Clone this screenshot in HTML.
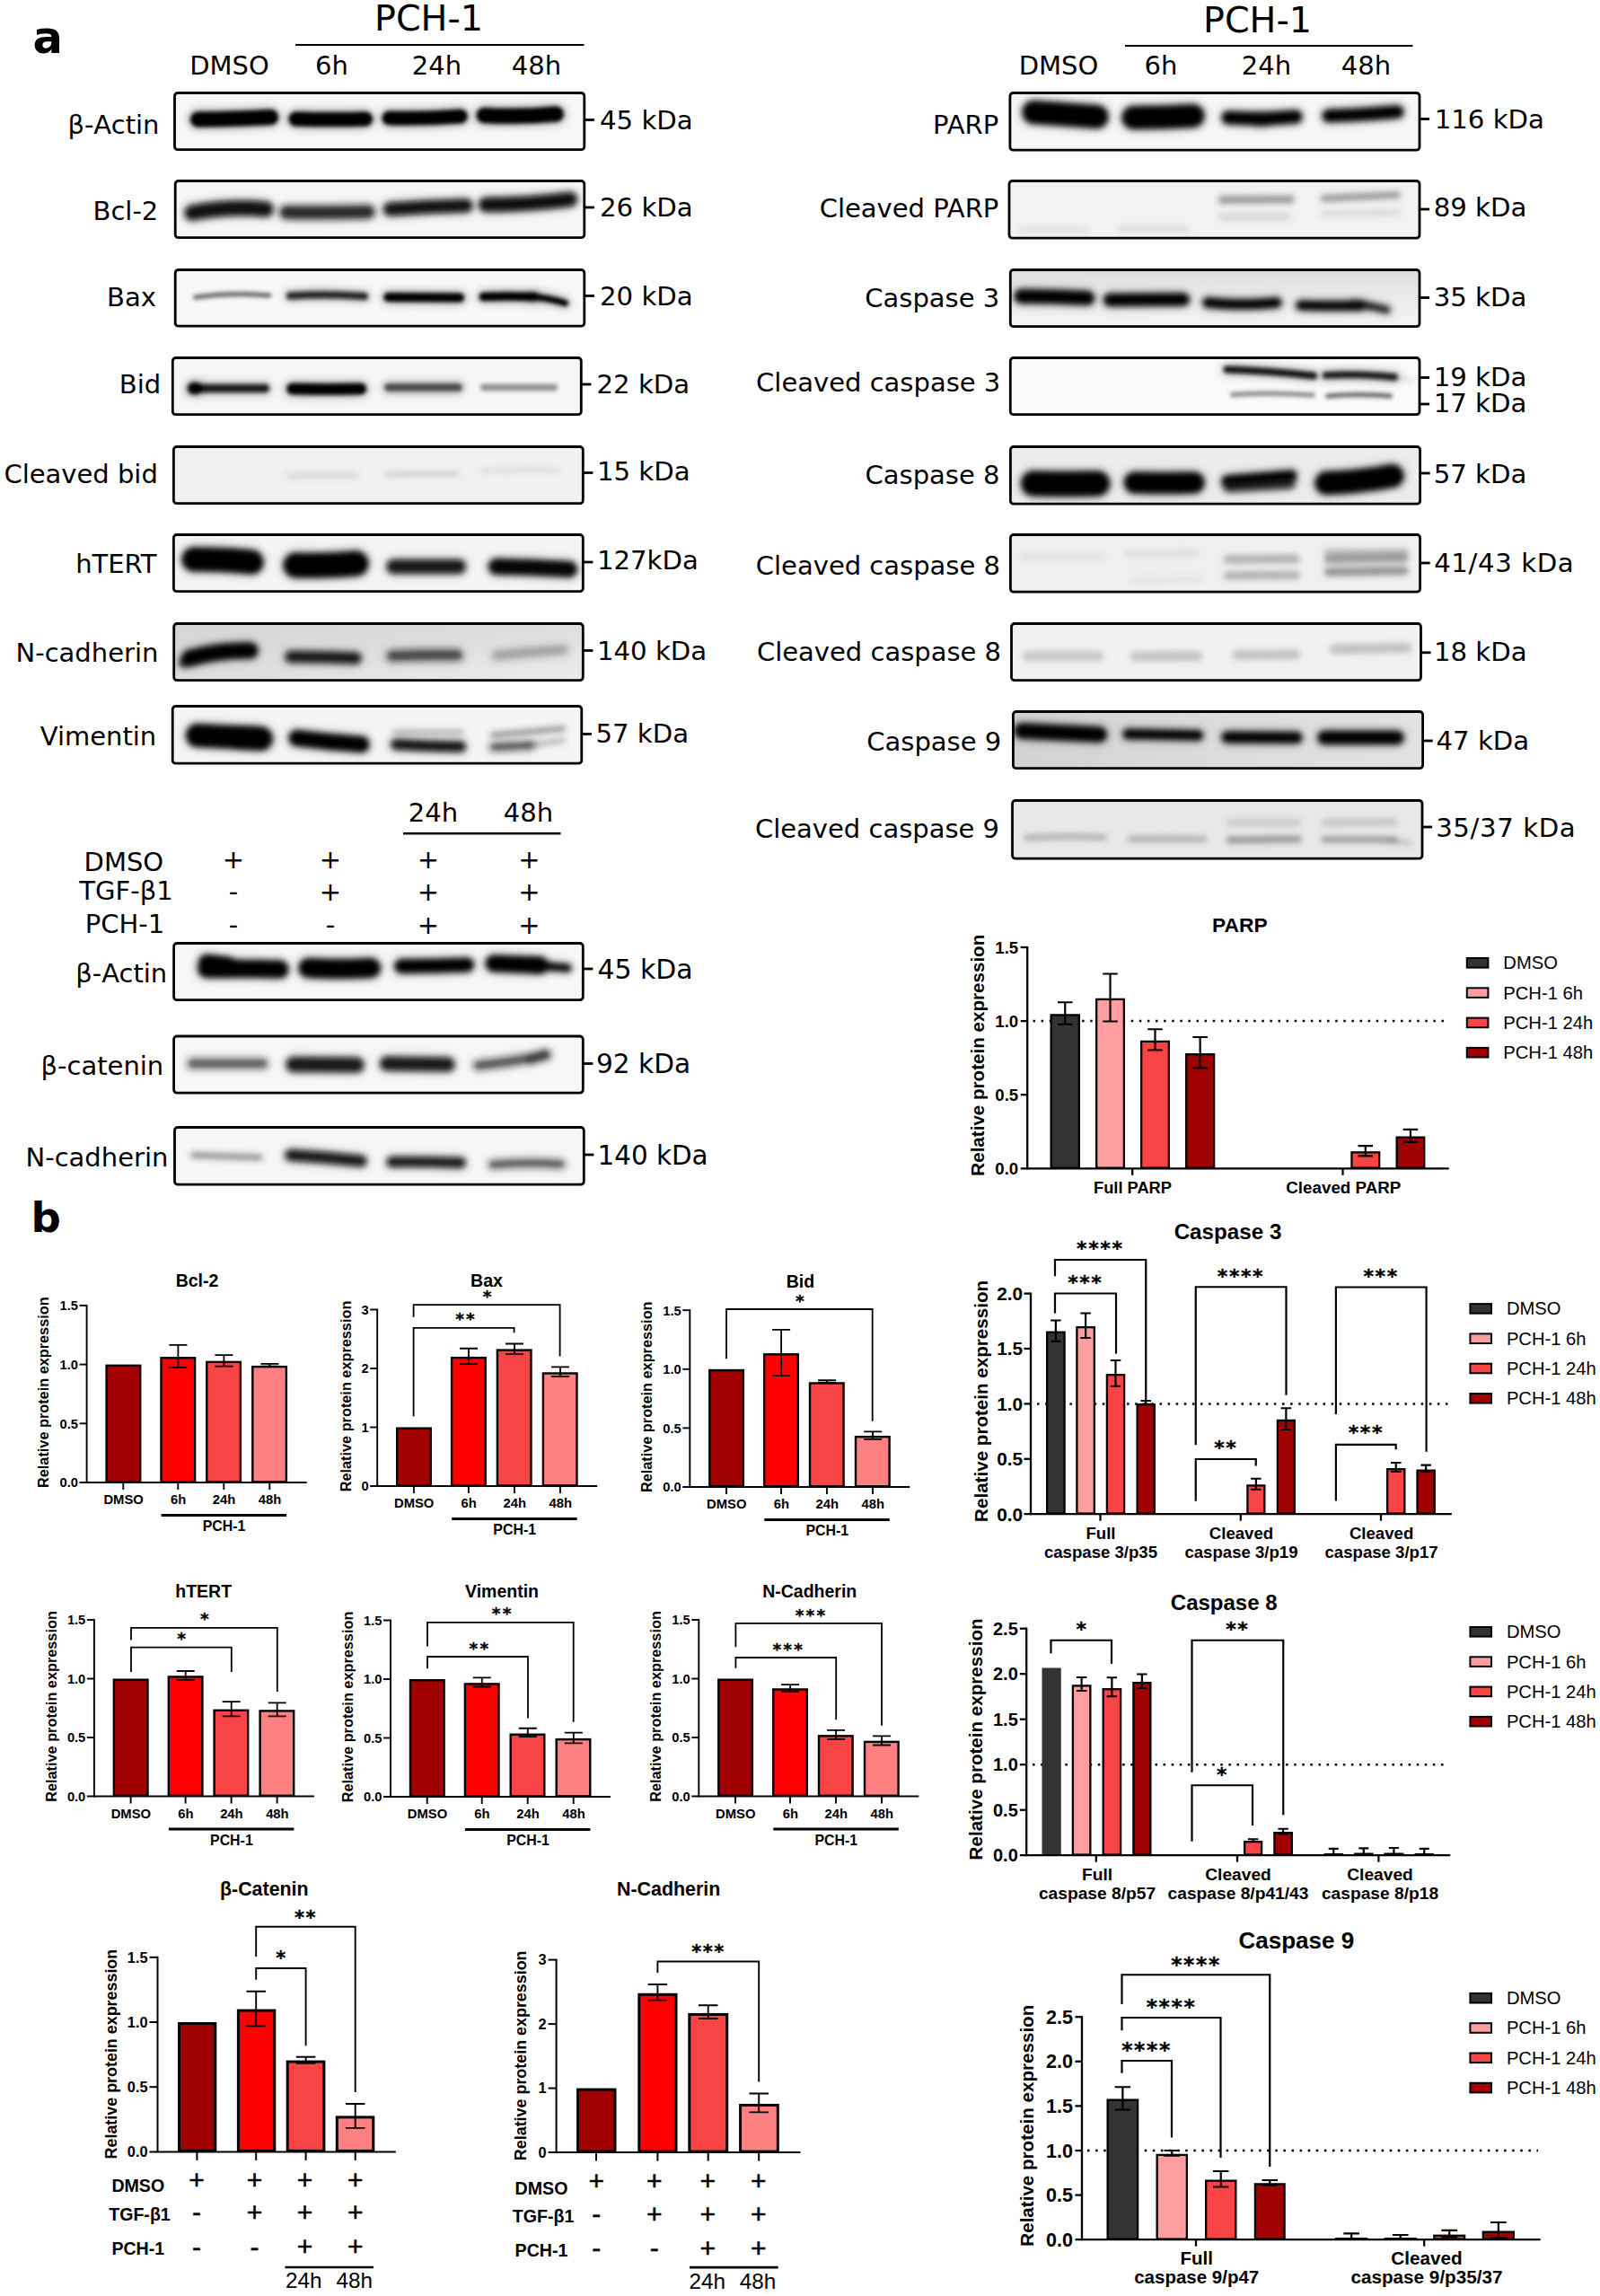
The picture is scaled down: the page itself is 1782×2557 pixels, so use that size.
<!DOCTYPE html>
<html><head><meta charset="utf-8"><title>Figure</title>
<style>
html,body{margin:0;padding:0;background:#fff}
svg{display:block}
.d{font-family:"DejaVu Sans","Liberation Sans",sans-serif}
.l{font-family:"Liberation Sans","DejaVu Sans",sans-serif}
</style></head><body>
<svg width="1782" height="2557" viewBox="0 0 1782 2557">
<defs>
<filter id="b1" x="-20%" y="-200%" width="140%" height="500%"><feGaussianBlur stdDeviation="1.2"/></filter>
<filter id="b2" x="-20%" y="-200%" width="140%" height="500%"><feGaussianBlur stdDeviation="2"/></filter>
<filter id="b3" x="-20%" y="-200%" width="140%" height="500%"><feGaussianBlur stdDeviation="3"/></filter>
<filter id="b4" x="-20%" y="-300%" width="140%" height="700%"><feGaussianBlur stdDeviation="4.5"/></filter>
</defs>
<rect width="1782" height="2557" fill="#fff"/>

<text x="36.4" y="58.6" font-size="49.5" class="d" font-weight="bold">a</text>
<text x="34.6" y="1371.8" font-size="46.6" class="d" font-weight="bold">b</text>
<text x="477.5" y="33.7" font-size="39.7" class="d" text-anchor="middle">PCH-1</text>
<line x1="329.0" y1="50.0" x2="650.5" y2="50.0" stroke="#000" stroke-width="2"/>
<text x="255.5" y="82.5" font-size="29" class="d" text-anchor="middle">DMSO</text>
<text x="369.5" y="82.5" font-size="29" class="d" text-anchor="middle">6h</text>
<text x="486.5" y="82.5" font-size="29" class="d" text-anchor="middle">24h</text>
<text x="597.5" y="82.5" font-size="29" class="d" text-anchor="middle">48h</text>
<text x="1400.5" y="36.3" font-size="39.7" class="d" text-anchor="middle">PCH-1</text>
<line x1="1253.0" y1="51.0" x2="1573.5" y2="51.0" stroke="#000" stroke-width="2"/>
<text x="1179.0" y="82.5" font-size="29" class="d" text-anchor="middle">DMSO</text>
<text x="1293.0" y="82.5" font-size="29" class="d" text-anchor="middle">6h</text>
<text x="1410.5" y="82.5" font-size="29" class="d" text-anchor="middle">24h</text>
<text x="1521.5" y="82.5" font-size="29" class="d" text-anchor="middle">48h</text>
<clipPath id="c1"><rect x="194.5" y="103.5" width="456.3" height="63.2" rx="3"/></clipPath>
<rect x="194.5" y="103.5" width="456.3" height="63.2" rx="3" fill="#f7f7f7"/>
<g clip-path="url(#c1)">
<filter id="f1b2" filterUnits="userSpaceOnUse" x="180" y="88" width="486" height="93"><feGaussianBlur stdDeviation="2"/></filter>
<g filter="url(#f1b2)">
<path d="M220.5 133.0 Q261.0 132.8 301.5 130.5" fill="none" stroke="#000" stroke-opacity="1" stroke-width="17" stroke-linecap="round"/>
<path d="M329.5 132.5 Q368.2 133.5 407.0 132.5" fill="none" stroke="#000" stroke-opacity="1" stroke-width="16" stroke-linecap="round"/>
<path d="M433.4 131.5 Q473.1 132.5 512.9 129.5" fill="none" stroke="#000" stroke-opacity="1" stroke-width="15.5" stroke-linecap="round"/>
<path d="M539.2 128.5 Q579.2 130.8 619.3 127.0" fill="none" stroke="#000" stroke-opacity="1" stroke-width="17" stroke-linecap="round"/>
</g>
<filter id="f1h" filterUnits="userSpaceOnUse" x="180" y="88" width="486" height="93"><feGaussianBlur stdDeviation="5"/></filter>
<g filter="url(#f1h)"><path d="M220.5 133.0 Q261.0 132.8 301.5 130.5" fill="none" stroke="#000" stroke-opacity="0.33" stroke-width="22" stroke-linecap="round"/><path d="M329.5 132.5 Q368.2 133.5 407.0 132.5" fill="none" stroke="#000" stroke-opacity="0.33" stroke-width="21" stroke-linecap="round"/><path d="M433.4 131.5 Q473.1 132.5 512.9 129.5" fill="none" stroke="#000" stroke-opacity="0.33" stroke-width="20.5" stroke-linecap="round"/><path d="M539.2 128.5 Q579.2 130.8 619.3 127.0" fill="none" stroke="#000" stroke-opacity="0.33" stroke-width="22" stroke-linecap="round"/></g>
</g>
<rect x="194.5" y="103.5" width="456.3" height="63.2" rx="3.5" fill="none" stroke="#000" stroke-width="2.8"/>
<text x="75.4" y="148.5" font-size="29.0" class="d">β-Actin</text>
<text x="668.0" y="143.5" font-size="29.2" class="d">45 kDa</text>
<line x1="651.0" y1="133.5" x2="661.9" y2="133.5" stroke="#000" stroke-width="2.8"/>
<clipPath id="c2"><rect x="195.2" y="201.5" width="455.6" height="63.2" rx="3"/></clipPath>
<rect x="195.2" y="201.5" width="455.6" height="63.2" rx="3" fill="#f6f6f6"/>
<g clip-path="url(#c2)">
<filter id="f2b3" filterUnits="userSpaceOnUse" x="180" y="186" width="486" height="93"><feGaussianBlur stdDeviation="3"/></filter>
<g filter="url(#f2b3)">
<path d="M214.0 237.0 Q255.0 229.0 296.0 233.0" fill="none" stroke="#111" stroke-opacity="0.95" stroke-width="16" stroke-linecap="round"/>
<path d="M319.0 236.5 Q364.5 237.2 410.0 236.0" fill="none" stroke="#181818" stroke-opacity="0.9" stroke-width="14" stroke-linecap="round"/>
<path d="M434.5 233.0 Q476.8 230.0 519.0 229.0" fill="none" stroke="#0c0c0c" stroke-opacity="0.95" stroke-width="14" stroke-linecap="round"/>
<path d="M541.2 228.0 Q588.1 228.0 635.0 222.0" fill="none" stroke="#080808" stroke-opacity="0.97" stroke-width="15" stroke-linecap="round"/>
</g>
<filter id="f2h" filterUnits="userSpaceOnUse" x="180" y="186" width="486" height="93"><feGaussianBlur stdDeviation="5"/></filter>
<g filter="url(#f2h)"><path d="M214.0 237.0 Q255.0 229.0 296.0 233.0" fill="none" stroke="#111" stroke-opacity="0.31" stroke-width="21" stroke-linecap="round"/><path d="M319.0 236.5 Q364.5 237.2 410.0 236.0" fill="none" stroke="#181818" stroke-opacity="0.30" stroke-width="19" stroke-linecap="round"/><path d="M434.5 233.0 Q476.8 230.0 519.0 229.0" fill="none" stroke="#0c0c0c" stroke-opacity="0.31" stroke-width="19" stroke-linecap="round"/><path d="M541.2 228.0 Q588.1 228.0 635.0 222.0" fill="none" stroke="#080808" stroke-opacity="0.32" stroke-width="20" stroke-linecap="round"/></g>
</g>
<rect x="195.2" y="201.5" width="455.6" height="63.2" rx="3.5" fill="none" stroke="#000" stroke-width="2.8"/>
<text x="103.5" y="245.0" font-size="29.0" class="d">Bcl-2</text>
<text x="668.0" y="241.0" font-size="29.2" class="d">26 kDa</text>
<line x1="651.0" y1="231.0" x2="661.9" y2="231.0" stroke="#000" stroke-width="2.8"/>
<clipPath id="c3"><rect x="195.2" y="300.5" width="455.6" height="62.7" rx="3"/></clipPath>
<rect x="195.2" y="300.5" width="455.6" height="62.7" rx="3" fill="#f8f8f8"/>
<g clip-path="url(#c3)">
<filter id="f3b2" filterUnits="userSpaceOnUse" x="180" y="286" width="486" height="93"><feGaussianBlur stdDeviation="2"/></filter>
<g filter="url(#f3b2)">
<path d="M217.8 331.0 Q258.8 325.0 299.8 329.0" fill="none" stroke="#333" stroke-opacity="0.7" stroke-width="5.5" stroke-linecap="round"/>
<path d="M323.0 329.5 Q364.5 326.8 406.0 330.0" fill="none" stroke="#111" stroke-opacity="0.85" stroke-width="8" stroke-linecap="round"/>
<path d="M432.5 331.0 Q472.2 331.2 512.0 331.5" fill="none" stroke="#000" stroke-opacity="1" stroke-width="10" stroke-linecap="round"/>
<path d="M538.5 330.5 Q566.9 329.5 595.2 330.5" fill="none" stroke="#000" stroke-opacity="1" stroke-width="9.5" stroke-linecap="round"/>
<path d="M593.5 330.5 Q611.5 332.0 629.5 337.5" fill="none" stroke="#000" stroke-opacity="1" stroke-width="7" stroke-linecap="round"/>
</g>
<filter id="f3h" filterUnits="userSpaceOnUse" x="180" y="286" width="486" height="93"><feGaussianBlur stdDeviation="5"/></filter>
<g filter="url(#f3h)"><path d="M323.0 329.5 Q364.5 326.8 406.0 330.0" fill="none" stroke="#111" stroke-opacity="0.28" stroke-width="13" stroke-linecap="round"/><path d="M432.5 331.0 Q472.2 331.2 512.0 331.5" fill="none" stroke="#000" stroke-opacity="0.33" stroke-width="15" stroke-linecap="round"/><path d="M538.5 330.5 Q566.9 329.5 595.2 330.5" fill="none" stroke="#000" stroke-opacity="0.33" stroke-width="14.5" stroke-linecap="round"/><path d="M593.5 330.5 Q611.5 332.0 629.5 337.5" fill="none" stroke="#000" stroke-opacity="0.33" stroke-width="12" stroke-linecap="round"/></g>
</g>
<rect x="195.2" y="300.5" width="455.6" height="62.7" rx="3.5" fill="none" stroke="#000" stroke-width="2.8"/>
<text x="119.0" y="341.2" font-size="29.0" class="d">Bax</text>
<text x="668.0" y="339.5" font-size="29.2" class="d">20 kDa</text>
<line x1="651.0" y1="329.5" x2="661.9" y2="329.5" stroke="#000" stroke-width="2.8"/>
<clipPath id="c4"><rect x="192.3" y="398.5" width="455.0" height="63.2" rx="3"/></clipPath>
<rect x="192.3" y="398.5" width="455.0" height="63.2" rx="3" fill="#f6f6f6"/>
<g clip-path="url(#c4)">
<filter id="f4b2" filterUnits="userSpaceOnUse" x="177" y="384" width="485" height="93"><feGaussianBlur stdDeviation="2"/></filter>
<g filter="url(#f4b2)">
<path d="M215.1 432.5 Q255.3 432.5 295.5 432.5" fill="none" stroke="#111" stroke-opacity="0.9" stroke-width="9" stroke-linecap="round"/>
<path d="M215.5 432.5 Q217.0 432.5 218.5 432.5" fill="none" stroke="#000" stroke-opacity="0.9" stroke-width="13" stroke-linecap="round"/>
<path d="M325.6 433.0 Q363.7 434.0 401.8 433.0" fill="none" stroke="#000" stroke-opacity="1" stroke-width="12.5" stroke-linecap="round"/>
<path d="M432.5 431.5 Q471.5 431.5 510.5 431.5" fill="none" stroke="#222" stroke-opacity="0.75" stroke-width="9" stroke-linecap="round"/>
<path d="M539.0 431.5 Q578.0 431.5 617.0 431.5" fill="none" stroke="#333" stroke-opacity="0.5" stroke-width="8" stroke-linecap="round"/>
</g>
<filter id="f4h" filterUnits="userSpaceOnUse" x="177" y="384" width="485" height="93"><feGaussianBlur stdDeviation="5"/></filter>
<g filter="url(#f4h)"><path d="M215.1 432.5 Q255.3 432.5 295.5 432.5" fill="none" stroke="#111" stroke-opacity="0.30" stroke-width="14" stroke-linecap="round"/><path d="M215.5 432.5 Q217.0 432.5 218.5 432.5" fill="none" stroke="#000" stroke-opacity="0.30" stroke-width="18" stroke-linecap="round"/><path d="M325.6 433.0 Q363.7 434.0 401.8 433.0" fill="none" stroke="#000" stroke-opacity="0.33" stroke-width="17.5" stroke-linecap="round"/><path d="M432.5 431.5 Q471.5 431.5 510.5 431.5" fill="none" stroke="#222" stroke-opacity="0.25" stroke-width="14" stroke-linecap="round"/></g>
</g>
<rect x="192.3" y="398.5" width="455.0" height="63.2" rx="3.5" fill="none" stroke="#000" stroke-width="2.8"/>
<text x="132.8" y="437.8" font-size="29.0" class="d">Bid</text>
<text x="664.5" y="438.0" font-size="29.2" class="d">22 kDa</text>
<line x1="647.5" y1="428.0" x2="658.4" y2="428.0" stroke="#000" stroke-width="2.8"/>
<clipPath id="c5"><rect x="193.4" y="497.5" width="455.9" height="63.2" rx="3"/></clipPath>
<rect x="193.4" y="497.5" width="455.9" height="63.2" rx="3" fill="#f1f1f1"/>
<g clip-path="url(#c5)">
<filter id="f5b3" filterUnits="userSpaceOnUse" x="178" y="482" width="486" height="93"><feGaussianBlur stdDeviation="3"/></filter>
<g filter="url(#f5b3)">
<path d="M321.5 530.0 Q359.5 528.8 397.5 529.5" fill="none" stroke="#555" stroke-opacity="0.22" stroke-width="5" stroke-linecap="round"/>
<path d="M430.5 528.5 Q470.0 527.0 509.5 527.5" fill="none" stroke="#555" stroke-opacity="0.25" stroke-width="5" stroke-linecap="round"/>
<path d="M537.0 524.5 Q579.5 522.0 622.0 523.5" fill="none" stroke="#555" stroke-opacity="0.2" stroke-width="4" stroke-linecap="round"/>
</g>
</g>
<rect x="193.4" y="497.5" width="455.9" height="63.2" rx="3.5" fill="none" stroke="#000" stroke-width="2.8"/>
<text x="4.4" y="537.6" font-size="29.0" class="d">Cleaved bid</text>
<text x="664.9" y="535.4" font-size="29.2" class="d">15 kDa</text>
<line x1="649.5" y1="526.5" x2="660.4" y2="526.5" stroke="#000" stroke-width="2.8"/>
<clipPath id="c6"><rect x="193.4" y="595.5" width="455.9" height="63.2" rx="3"/></clipPath>
<rect x="193.4" y="595.5" width="455.9" height="63.2" rx="3" fill="#f4f4f4"/>
<g clip-path="url(#c6)">
<filter id="f6b3" filterUnits="userSpaceOnUse" x="178" y="580" width="486" height="93"><feGaussianBlur stdDeviation="3"/></filter>
<g filter="url(#f6b3)">
<path d="M216.0 623.0 Q248.0 622.5 280.0 626.0" fill="none" stroke="#000" stroke-opacity="1" stroke-width="26" stroke-linecap="round"/>
<path d="M329.5 629.5 Q363.0 630.5 396.5 627.5" fill="none" stroke="#000" stroke-opacity="1" stroke-width="27" stroke-linecap="round"/>
<path d="M438.5 631.0 Q474.7 631.0 510.9 631.0" fill="none" stroke="#0a0a0a" stroke-opacity="0.92" stroke-width="15" stroke-linecap="round"/>
<path d="M553.0 631.0 Q593.5 631.5 634.0 634.0" fill="none" stroke="#050505" stroke-opacity="0.97" stroke-width="17" stroke-linecap="round"/>
</g>
<filter id="f6h" filterUnits="userSpaceOnUse" x="178" y="580" width="486" height="93"><feGaussianBlur stdDeviation="5"/></filter>
<g filter="url(#f6h)"><path d="M216.0 623.0 Q248.0 622.5 280.0 626.0" fill="none" stroke="#000" stroke-opacity="0.33" stroke-width="31" stroke-linecap="round"/><path d="M329.5 629.5 Q363.0 630.5 396.5 627.5" fill="none" stroke="#000" stroke-opacity="0.33" stroke-width="32" stroke-linecap="round"/><path d="M438.5 631.0 Q474.7 631.0 510.9 631.0" fill="none" stroke="#0a0a0a" stroke-opacity="0.30" stroke-width="20" stroke-linecap="round"/><path d="M553.0 631.0 Q593.5 631.5 634.0 634.0" fill="none" stroke="#050505" stroke-opacity="0.32" stroke-width="22" stroke-linecap="round"/></g>
</g>
<rect x="193.4" y="595.5" width="455.9" height="63.2" rx="3.5" fill="none" stroke="#000" stroke-width="2.8"/>
<text x="84.2" y="637.7" font-size="29.0" class="d">hTERT</text>
<text x="664.9" y="633.9" font-size="29.2" class="d">127kDa</text>
<line x1="649.5" y1="626.0" x2="660.4" y2="626.0" stroke="#000" stroke-width="2.8"/>
<clipPath id="c7"><rect x="193.7" y="694.5" width="455.6" height="63.2" rx="3"/></clipPath>
<linearGradient id="g7" x1="0" y1="0" x2="1" y2="1"><stop offset="0" stop-color="#d4d4d4"/><stop offset="0.5" stop-color="#dedede"/><stop offset="1" stop-color="#ececec"/></linearGradient>
<rect x="193.7" y="694.5" width="455.6" height="63.2" rx="3" fill="url(#g7)"/>
<g clip-path="url(#c7)">
<filter id="f7b3" filterUnits="userSpaceOnUse" x="179" y="680" width="486" height="93"><feGaussianBlur stdDeviation="3"/></filter>
<g filter="url(#f7b3)">
<path d="M211.5 733.0 Q245.0 723.8 278.5 724.5" fill="none" stroke="#000" stroke-opacity="1" stroke-width="17" stroke-linecap="round"/>
<path d="M205.0 738.0 Q207.5 735.5 210.0 733.0" fill="none" stroke="#000" stroke-opacity="0.8" stroke-width="10" stroke-linecap="round"/>
<path d="M324.0 731.5 Q360.0 731.2 396.0 733.0" fill="none" stroke="#111" stroke-opacity="0.9" stroke-width="12" stroke-linecap="round"/>
<path d="M436.5 730.5 Q473.0 729.0 509.5 729.5" fill="none" stroke="#222" stroke-opacity="0.75" stroke-width="11" stroke-linecap="round"/>
</g>
<filter id="f7b4" filterUnits="userSpaceOnUse" x="179" y="680" width="486" height="93"><feGaussianBlur stdDeviation="4.5"/></filter>
<g filter="url(#f7b4)">
<path d="M552.5 730.0 Q590.2 725.8 628.0 723.5" fill="none" stroke="#333" stroke-opacity="0.45" stroke-width="10" stroke-linecap="round"/>
</g>
<filter id="f7h" filterUnits="userSpaceOnUse" x="179" y="680" width="486" height="93"><feGaussianBlur stdDeviation="5"/></filter>
<g filter="url(#f7h)"><path d="M211.5 733.0 Q245.0 723.8 278.5 724.5" fill="none" stroke="#000" stroke-opacity="0.33" stroke-width="22" stroke-linecap="round"/><path d="M205.0 738.0 Q207.5 735.5 210.0 733.0" fill="none" stroke="#000" stroke-opacity="0.26" stroke-width="15" stroke-linecap="round"/><path d="M324.0 731.5 Q360.0 731.2 396.0 733.0" fill="none" stroke="#111" stroke-opacity="0.30" stroke-width="17" stroke-linecap="round"/><path d="M436.5 730.5 Q473.0 729.0 509.5 729.5" fill="none" stroke="#222" stroke-opacity="0.25" stroke-width="16" stroke-linecap="round"/></g>
</g>
<rect x="193.7" y="694.5" width="455.6" height="63.2" rx="3.5" fill="none" stroke="#000" stroke-width="2.8"/>
<text x="17.5" y="737.0" font-size="29.0" class="d">N-cadherin</text>
<text x="664.9" y="735.4" font-size="29.2" class="d">140 kDa</text>
<line x1="649.5" y1="724.5" x2="660.4" y2="724.5" stroke="#000" stroke-width="2.8"/>
<clipPath id="c8"><rect x="192.2" y="786.5" width="455.6" height="63.7" rx="3"/></clipPath>
<rect x="192.2" y="786.5" width="455.6" height="63.7" rx="3" fill="#f4f4f4"/>
<g clip-path="url(#c8)">
<filter id="f8b3" filterUnits="userSpaceOnUse" x="177" y="772" width="486" height="94"><feGaussianBlur stdDeviation="3"/></filter>
<g filter="url(#f8b3)">
<path d="M220.1 819.0 Q255.1 820.8 290.0 822.5" fill="none" stroke="#000" stroke-opacity="1" stroke-width="25" stroke-linecap="round"/>
<path d="M269.5 822.0 Q281.2 822.5 293.0 823.0" fill="none" stroke="#000" stroke-opacity="1" stroke-width="19" stroke-linecap="round"/>
<path d="M330.5 822.0 Q366.5 826.5 402.5 829.0" fill="none" stroke="#000" stroke-opacity="1" stroke-width="17" stroke-linecap="round"/>
<path d="M441.2 829.0 Q477.0 831.2 512.9 831.5" fill="none" stroke="#080808" stroke-opacity="0.95" stroke-width="11" stroke-linecap="round"/>
<path d="M440.0 815.5 Q477.0 815.5 514.0 815.5" fill="none" stroke="#555" stroke-opacity="0.4" stroke-width="6" stroke-linecap="round"/>
<path d="M549.0 818.5 Q588.0 815.0 627.0 811.5" fill="none" stroke="#333" stroke-opacity="0.5" stroke-width="6" stroke-linecap="round"/>
<path d="M550.0 832.0 Q570.5 831.0 591.0 830.0" fill="none" stroke="#222" stroke-opacity="0.7" stroke-width="8" stroke-linecap="round"/>
<path d="M588.0 830.0 Q607.5 827.2 627.0 824.5" fill="none" stroke="#444" stroke-opacity="0.35" stroke-width="6" stroke-linecap="round"/>
</g>
<filter id="f8h" filterUnits="userSpaceOnUse" x="177" y="772" width="486" height="94"><feGaussianBlur stdDeviation="5"/></filter>
<g filter="url(#f8h)"><path d="M220.1 819.0 Q255.1 820.8 290.0 822.5" fill="none" stroke="#000" stroke-opacity="0.33" stroke-width="30" stroke-linecap="round"/><path d="M269.5 822.0 Q281.2 822.5 293.0 823.0" fill="none" stroke="#000" stroke-opacity="0.33" stroke-width="24" stroke-linecap="round"/><path d="M330.5 822.0 Q366.5 826.5 402.5 829.0" fill="none" stroke="#000" stroke-opacity="0.33" stroke-width="22" stroke-linecap="round"/><path d="M441.2 829.0 Q477.0 831.2 512.9 831.5" fill="none" stroke="#080808" stroke-opacity="0.31" stroke-width="16" stroke-linecap="round"/><path d="M550.0 832.0 Q570.5 831.0 591.0 830.0" fill="none" stroke="#222" stroke-opacity="0.23" stroke-width="13" stroke-linecap="round"/></g>
</g>
<rect x="192.2" y="786.5" width="455.6" height="63.7" rx="3.5" fill="none" stroke="#000" stroke-width="2.8"/>
<text x="44.7" y="829.6" font-size="29.0" class="d">Vimentin</text>
<text x="663.4" y="826.9" font-size="29.2" class="d">57 kDa</text>
<line x1="648.0" y1="817.5" x2="658.9" y2="817.5" stroke="#000" stroke-width="2.8"/>
<text x="482.5" y="914.5" font-size="29" class="d" text-anchor="middle">24h</text>
<text x="588.5" y="914.5" font-size="29" class="d" text-anchor="middle">48h</text>
<line x1="449.0" y1="928.3" x2="624.5" y2="928.3" stroke="#000" stroke-width="2.6"/>
<text x="93.6" y="969.7" font-size="29.0" class="d">DMSO</text>
<text x="88.3" y="1001.8" font-size="29.0" class="d">TGF-β1</text>
<text x="94.8" y="1039.4" font-size="29.0" class="d">PCH-1</text>
<text x="260.0" y="966.6" font-size="29.0" class="d" text-anchor="middle">+</text>
<text x="368.0" y="966.6" font-size="29.0" class="d" text-anchor="middle">+</text>
<text x="477.0" y="966.6" font-size="29.0" class="d" text-anchor="middle">+</text>
<text x="589.5" y="966.6" font-size="29.0" class="d" text-anchor="middle">+</text>
<text x="260.0" y="1003.4" font-size="29.0" class="d" text-anchor="middle">-</text>
<text x="368.0" y="1003.4" font-size="29.0" class="d" text-anchor="middle">+</text>
<text x="477.0" y="1003.4" font-size="29.0" class="d" text-anchor="middle">+</text>
<text x="589.5" y="1003.4" font-size="29.0" class="d" text-anchor="middle">+</text>
<text x="260.0" y="1040.4" font-size="29.0" class="d" text-anchor="middle">-</text>
<text x="368.0" y="1040.4" font-size="29.0" class="d" text-anchor="middle">-</text>
<text x="477.0" y="1040.4" font-size="29.0" class="d" text-anchor="middle">+</text>
<text x="589.5" y="1040.4" font-size="29.0" class="d" text-anchor="middle">+</text>
<clipPath id="c9"><rect x="193.6" y="1050.5" width="455.7" height="63.2" rx="3"/></clipPath>
<rect x="193.6" y="1050.5" width="455.7" height="63.2" rx="3" fill="#f7f7f7"/>
<g clip-path="url(#c9)">
<filter id="f9b3" filterUnits="userSpaceOnUse" x="179" y="1036" width="486" height="93"><feGaussianBlur stdDeviation="3"/></filter>
<g filter="url(#f9b3)">
<path d="M230.5 1079.0 Q271.0 1078.2 311.5 1079.5" fill="none" stroke="#000" stroke-opacity="1" stroke-width="19" stroke-linecap="round"/>
<path d="M230.5 1072.0 Q242.0 1073.5 253.5 1075.0" fill="none" stroke="#000" stroke-opacity="1" stroke-width="17" stroke-linecap="round"/>
<path d="M343.5 1078.0 Q378.2 1080.0 413.0 1078.0" fill="none" stroke="#000" stroke-opacity="1" stroke-width="21" stroke-linecap="round"/>
<path d="M447.2 1076.0 Q483.6 1076.2 520.1 1074.5" fill="none" stroke="#000" stroke-opacity="1" stroke-width="15" stroke-linecap="round"/>
<path d="M550.0 1073.0 Q575.5 1074.0 601.0 1075.0" fill="none" stroke="#000" stroke-opacity="1" stroke-width="18" stroke-linecap="round"/>
<path d="M594.0 1075.0 Q613.0 1076.5 632.0 1078.0" fill="none" stroke="#000" stroke-opacity="1" stroke-width="8" stroke-linecap="round"/>
</g>
<filter id="f9h" filterUnits="userSpaceOnUse" x="179" y="1036" width="486" height="93"><feGaussianBlur stdDeviation="5"/></filter>
<g filter="url(#f9h)"><path d="M230.5 1079.0 Q271.0 1078.2 311.5 1079.5" fill="none" stroke="#000" stroke-opacity="0.33" stroke-width="24" stroke-linecap="round"/><path d="M230.5 1072.0 Q242.0 1073.5 253.5 1075.0" fill="none" stroke="#000" stroke-opacity="0.33" stroke-width="22" stroke-linecap="round"/><path d="M343.5 1078.0 Q378.2 1080.0 413.0 1078.0" fill="none" stroke="#000" stroke-opacity="0.33" stroke-width="26" stroke-linecap="round"/><path d="M447.2 1076.0 Q483.6 1076.2 520.1 1074.5" fill="none" stroke="#000" stroke-opacity="0.33" stroke-width="20" stroke-linecap="round"/><path d="M550.0 1073.0 Q575.5 1074.0 601.0 1075.0" fill="none" stroke="#000" stroke-opacity="0.33" stroke-width="23" stroke-linecap="round"/><path d="M594.0 1075.0 Q613.0 1076.5 632.0 1078.0" fill="none" stroke="#000" stroke-opacity="0.33" stroke-width="13" stroke-linecap="round"/></g>
</g>
<rect x="193.6" y="1050.5" width="455.7" height="63.2" rx="3.5" fill="none" stroke="#000" stroke-width="2.8"/>
<text x="84.2" y="1094.3" font-size="29.0" class="d">β-Actin</text>
<text x="665.5" y="1090.0" font-size="29.9" class="d">45 kDa</text>
<line x1="649.5" y1="1079.0" x2="660.4" y2="1079.0" stroke="#000" stroke-width="2.8"/>
<clipPath id="c10"><rect x="193.6" y="1154.0" width="455.7" height="63.2" rx="3"/></clipPath>
<rect x="193.6" y="1154.0" width="455.7" height="63.2" rx="3" fill="#f7f7f7"/>
<g clip-path="url(#c10)">
<filter id="f10b3" filterUnits="userSpaceOnUse" x="179" y="1139" width="486" height="93"><feGaussianBlur stdDeviation="3"/></filter>
<g filter="url(#f10b3)">
<path d="M214.2 1184.5 Q253.5 1184.5 292.8 1184.5" fill="none" stroke="#222" stroke-opacity="0.65" stroke-width="10.5" stroke-linecap="round"/>
<path d="M327.0 1185.5 Q362.0 1185.8 397.0 1186.0" fill="none" stroke="#111" stroke-opacity="0.9" stroke-width="16" stroke-linecap="round"/>
<path d="M431.0 1184.5 Q464.8 1185.0 498.5 1185.5" fill="none" stroke="#111" stroke-opacity="0.9" stroke-width="15" stroke-linecap="round"/>
<path d="M532.4 1186.5 Q570.3 1182.8 608.2 1175.0" fill="none" stroke="#222" stroke-opacity="0.7" stroke-width="9.5" stroke-linecap="round"/>
<path d="M590.5 1180.0 Q599.0 1177.0 607.5 1174.0" fill="none" stroke="#222" stroke-opacity="0.5" stroke-width="11" stroke-linecap="round"/>
</g>
<filter id="f10h" filterUnits="userSpaceOnUse" x="179" y="1139" width="486" height="93"><feGaussianBlur stdDeviation="5"/></filter>
<g filter="url(#f10h)"><path d="M214.2 1184.5 Q253.5 1184.5 292.8 1184.5" fill="none" stroke="#222" stroke-opacity="0.21" stroke-width="15.5" stroke-linecap="round"/><path d="M327.0 1185.5 Q362.0 1185.8 397.0 1186.0" fill="none" stroke="#111" stroke-opacity="0.30" stroke-width="21" stroke-linecap="round"/><path d="M431.0 1184.5 Q464.8 1185.0 498.5 1185.5" fill="none" stroke="#111" stroke-opacity="0.30" stroke-width="20" stroke-linecap="round"/><path d="M532.4 1186.5 Q570.3 1182.8 608.2 1175.0" fill="none" stroke="#222" stroke-opacity="0.23" stroke-width="14.5" stroke-linecap="round"/></g>
</g>
<rect x="193.6" y="1154.0" width="455.7" height="63.2" rx="3.5" fill="none" stroke="#000" stroke-width="2.8"/>
<text x="45.5" y="1196.6" font-size="29.0" class="d">β-catenin</text>
<text x="664.0" y="1194.6" font-size="29.6" class="d">92 kDa</text>
<line x1="649.5" y1="1184.5" x2="660.4" y2="1184.5" stroke="#000" stroke-width="2.8"/>
<clipPath id="c11"><rect x="194.5" y="1255.5" width="455.8" height="63.7" rx="3"/></clipPath>
<rect x="194.5" y="1255.5" width="455.8" height="63.7" rx="3" fill="#f6f6f6"/>
<g clip-path="url(#c11)">
<filter id="f11b3" filterUnits="userSpaceOnUse" x="180" y="1240" width="486" height="94"><feGaussianBlur stdDeviation="3"/></filter>
<g filter="url(#f11b3)">
<path d="M215.5 1286.5 Q252.5 1287.8 289.5 1289.0" fill="none" stroke="#333" stroke-opacity="0.5" stroke-width="7" stroke-linecap="round"/>
<path d="M324.0 1286.5 Q363.0 1288.8 402.0 1293.0" fill="none" stroke="#111" stroke-opacity="0.9" stroke-width="12" stroke-linecap="round"/>
<path d="M436.5 1294.0 Q474.7 1293.5 512.9 1295.0" fill="none" stroke="#111" stroke-opacity="0.9" stroke-width="11" stroke-linecap="round"/>
<path d="M548.5 1297.0 Q586.6 1293.8 624.7 1296.5" fill="none" stroke="#222" stroke-opacity="0.7" stroke-width="8" stroke-linecap="round"/>
</g>
<filter id="f11h" filterUnits="userSpaceOnUse" x="180" y="1240" width="486" height="94"><feGaussianBlur stdDeviation="5"/></filter>
<g filter="url(#f11h)"><path d="M324.0 1286.5 Q363.0 1288.8 402.0 1293.0" fill="none" stroke="#111" stroke-opacity="0.30" stroke-width="17" stroke-linecap="round"/><path d="M436.5 1294.0 Q474.7 1293.5 512.9 1295.0" fill="none" stroke="#111" stroke-opacity="0.30" stroke-width="16" stroke-linecap="round"/><path d="M548.5 1297.0 Q586.6 1293.8 624.7 1296.5" fill="none" stroke="#222" stroke-opacity="0.23" stroke-width="13" stroke-linecap="round"/></g>
</g>
<rect x="194.5" y="1255.5" width="455.8" height="63.7" rx="3.5" fill="none" stroke="#000" stroke-width="2.8"/>
<text x="28.5" y="1298.6" font-size="29.0" class="d">N-cadherin</text>
<text x="665.5" y="1296.7" font-size="29.4" class="d">140 kDa</text>
<line x1="650.5" y1="1286.0" x2="661.4" y2="1286.0" stroke="#000" stroke-width="2.8"/>
<clipPath id="c12"><rect x="1124.9" y="103.5" width="456.1" height="63.7" rx="3"/></clipPath>
<rect x="1124.9" y="103.5" width="456.1" height="63.7" rx="3" fill="#f6f6f6"/>
<g clip-path="url(#c12)">
<filter id="f12b3" filterUnits="userSpaceOnUse" x="1110" y="88" width="486" height="94"><feGaussianBlur stdDeviation="3"/></filter>
<g filter="url(#f12b3)">
<path d="M1151.5 125.0 Q1186.5 127.5 1221.5 130.0" fill="none" stroke="#000" stroke-opacity="1" stroke-width="25" stroke-linecap="round"/>
<path d="M1262.5 131.0 Q1295.5 131.0 1328.5 129.0" fill="none" stroke="#000" stroke-opacity="1" stroke-width="25" stroke-linecap="round"/>
<path d="M1368.0 131.0 Q1385.5 131.8 1403.0 132.5" fill="none" stroke="#000" stroke-opacity="1" stroke-width="14" stroke-linecap="round"/>
<path d="M1407.0 132.5 Q1425.0 131.2 1443.0 130.0" fill="none" stroke="#000" stroke-opacity="1" stroke-width="14" stroke-linecap="round"/>
<path d="M1479.8 129.0 Q1518.0 127.8 1556.2 124.5" fill="none" stroke="#000" stroke-opacity="1" stroke-width="13.5" stroke-linecap="round"/>
</g>
<filter id="f12h" filterUnits="userSpaceOnUse" x="1110" y="88" width="486" height="94"><feGaussianBlur stdDeviation="5"/></filter>
<g filter="url(#f12h)"><path d="M1151.5 125.0 Q1186.5 127.5 1221.5 130.0" fill="none" stroke="#000" stroke-opacity="0.33" stroke-width="30" stroke-linecap="round"/><path d="M1262.5 131.0 Q1295.5 131.0 1328.5 129.0" fill="none" stroke="#000" stroke-opacity="0.33" stroke-width="30" stroke-linecap="round"/><path d="M1368.0 131.0 Q1385.5 131.8 1403.0 132.5" fill="none" stroke="#000" stroke-opacity="0.33" stroke-width="19" stroke-linecap="round"/><path d="M1407.0 132.5 Q1425.0 131.2 1443.0 130.0" fill="none" stroke="#000" stroke-opacity="0.33" stroke-width="19" stroke-linecap="round"/><path d="M1479.8 129.0 Q1518.0 127.8 1556.2 124.5" fill="none" stroke="#000" stroke-opacity="0.33" stroke-width="18.5" stroke-linecap="round"/></g>
</g>
<rect x="1124.9" y="103.5" width="456.1" height="63.7" rx="3.5" fill="none" stroke="#000" stroke-width="2.8"/>
<text x="1039.1" y="149.1" font-size="29.0" class="d">PARP</text>
<text x="1597.7" y="143.0" font-size="29.2" class="d">116 kDa</text>
<line x1="1581.2" y1="132.5" x2="1592.1" y2="132.5" stroke="#000" stroke-width="2.8"/>
<clipPath id="c13"><rect x="1124.0" y="201.5" width="457.0" height="63.7" rx="3"/></clipPath>
<rect x="1124.0" y="201.5" width="457.0" height="63.7" rx="3" fill="#f2f2f2"/>
<g clip-path="url(#c13)">
<filter id="f13b3" filterUnits="userSpaceOnUse" x="1109" y="186" width="487" height="94"><feGaussianBlur stdDeviation="3"/></filter>
<g filter="url(#f13b3)">
<path d="M1361.0 222.5 Q1399.2 222.2 1437.5 222.0" fill="none" stroke="#444" stroke-opacity="0.5" stroke-width="9" stroke-linecap="round"/>
<path d="M1361.0 241.5 Q1397.2 241.5 1433.5 241.5" fill="none" stroke="#666" stroke-opacity="0.18" stroke-width="9" stroke-linecap="round"/>
<path d="M1475.0 221.0 Q1515.5 219.0 1556.0 217.0" fill="none" stroke="#444" stroke-opacity="0.5" stroke-width="8" stroke-linecap="round"/>
<path d="M1475.0 238.0 Q1515.5 237.2 1556.0 236.5" fill="none" stroke="#666" stroke-opacity="0.17" stroke-width="8" stroke-linecap="round"/>
<path d="M1138.0 256.0 Q1172.8 256.0 1207.5 256.0" fill="none" stroke="#777" stroke-opacity="0.15" stroke-width="7" stroke-linecap="round"/>
<path d="M1248.3 254.5 Q1284.4 254.5 1320.5 254.5" fill="none" stroke="#777" stroke-opacity="0.17" stroke-width="7" stroke-linecap="round"/>
</g>
</g>
<rect x="1124.0" y="201.5" width="457.0" height="63.7" rx="3.5" fill="none" stroke="#000" stroke-width="2.8"/>
<text x="912.7" y="241.7" font-size="29.0" class="d">Cleaved PARP</text>
<text x="1596.7" y="241.0" font-size="29.2" class="d">89 kDa</text>
<line x1="1581.2" y1="233.0" x2="1592.1" y2="233.0" stroke="#000" stroke-width="2.8"/>
<clipPath id="c14"><rect x="1125.3" y="300.5" width="455.7" height="63.2" rx="3"/></clipPath>
<linearGradient id="g14" x1="0" y1="0" x2="0" y2="1"><stop offset="0" stop-color="#dedede"/><stop offset="0.5" stop-color="#ebebeb"/><stop offset="1" stop-color="#f4f4f4"/></linearGradient>
<rect x="1125.3" y="300.5" width="455.7" height="63.2" rx="3" fill="url(#g14)"/>
<g clip-path="url(#c14)">
<filter id="f14b3" filterUnits="userSpaceOnUse" x="1110" y="286" width="486" height="93"><feGaussianBlur stdDeviation="3"/></filter>
<g filter="url(#f14b3)">
<path d="M1137.5 330.0 Q1174.3 330.0 1211.2 332.0" fill="none" stroke="#000" stroke-opacity="1" stroke-width="15" stroke-linecap="round"/>
<path d="M1236.2 334.0 Q1277.0 333.8 1317.7 333.5" fill="none" stroke="#000" stroke-opacity="1" stroke-width="13.5" stroke-linecap="round"/>
<path d="M1345.0 337.0 Q1383.3 341.0 1421.8 337.0" fill="none" stroke="#000" stroke-opacity="1" stroke-width="10.5" stroke-linecap="round"/>
<path d="M1448.8 340.0 Q1481.9 341.0 1515.0 340.0" fill="none" stroke="#000" stroke-opacity="1" stroke-width="10" stroke-linecap="round"/>
<path d="M1508.5 339.0 Q1526.5 340.0 1544.5 345.0" fill="none" stroke="#000" stroke-opacity="0.9" stroke-width="7" stroke-linecap="round"/>
</g>
<filter id="f14h" filterUnits="userSpaceOnUse" x="1110" y="286" width="486" height="93"><feGaussianBlur stdDeviation="5"/></filter>
<g filter="url(#f14h)"><path d="M1137.5 330.0 Q1174.3 330.0 1211.2 332.0" fill="none" stroke="#000" stroke-opacity="0.33" stroke-width="20" stroke-linecap="round"/><path d="M1236.2 334.0 Q1277.0 333.8 1317.7 333.5" fill="none" stroke="#000" stroke-opacity="0.33" stroke-width="18.5" stroke-linecap="round"/><path d="M1345.0 337.0 Q1383.3 341.0 1421.8 337.0" fill="none" stroke="#000" stroke-opacity="0.33" stroke-width="15.5" stroke-linecap="round"/><path d="M1448.8 340.0 Q1481.9 341.0 1515.0 340.0" fill="none" stroke="#000" stroke-opacity="0.33" stroke-width="15" stroke-linecap="round"/><path d="M1508.5 339.0 Q1526.5 340.0 1544.5 345.0" fill="none" stroke="#000" stroke-opacity="0.30" stroke-width="12" stroke-linecap="round"/></g>
</g>
<rect x="1125.3" y="300.5" width="455.7" height="63.2" rx="3.5" fill="none" stroke="#000" stroke-width="2.8"/>
<text x="963.3" y="341.5" font-size="29.0" class="d">Caspase 3</text>
<text x="1596.7" y="341.0" font-size="29.2" class="d">35 kDa</text>
<line x1="1581.2" y1="331.5" x2="1592.1" y2="331.5" stroke="#000" stroke-width="2.8"/>
<clipPath id="c15"><rect x="1125.3" y="398.5" width="455.7" height="63.2" rx="3"/></clipPath>
<rect x="1125.3" y="398.5" width="455.7" height="63.2" rx="3" fill="#fafafa"/>
<g clip-path="url(#c15)">
<filter id="f15b2" filterUnits="userSpaceOnUse" x="1110" y="384" width="486" height="93"><feGaussianBlur stdDeviation="2"/></filter>
<g filter="url(#f15b2)">
<path d="M1366.5 411.5 Q1414.8 413.0 1463.0 418.5" fill="none" stroke="#080808" stroke-opacity="0.95" stroke-width="7.5" stroke-linecap="round"/>
<path d="M1476.8 418.0 Q1515.0 416.0 1553.2 420.0" fill="none" stroke="#111" stroke-opacity="0.9" stroke-width="7.5" stroke-linecap="round"/>
<path d="M1372.8 439.5 Q1417.5 436.8 1462.2 440.0" fill="none" stroke="#333" stroke-opacity="0.55" stroke-width="5.5" stroke-linecap="round"/>
<path d="M1478.8 441.0 Q1513.5 438.0 1548.2 441.0" fill="none" stroke="#222" stroke-opacity="0.65" stroke-width="5.5" stroke-linecap="round"/>
</g>
<filter id="f15b3" filterUnits="userSpaceOnUse" x="1110" y="384" width="486" height="93"><feGaussianBlur stdDeviation="3"/></filter>
<g filter="url(#f15b3)">
<path d="M1558.0 421.0 Q1565.0 422.0 1572.0 423.0" fill="none" stroke="#888" stroke-opacity="0.2" stroke-width="6" stroke-linecap="round"/>
</g>
<filter id="f15h" filterUnits="userSpaceOnUse" x="1110" y="384" width="486" height="93"><feGaussianBlur stdDeviation="5"/></filter>
<g filter="url(#f15h)"><path d="M1366.5 411.5 Q1414.8 413.0 1463.0 418.5" fill="none" stroke="#080808" stroke-opacity="0.31" stroke-width="12.5" stroke-linecap="round"/><path d="M1476.8 418.0 Q1515.0 416.0 1553.2 420.0" fill="none" stroke="#111" stroke-opacity="0.30" stroke-width="12.5" stroke-linecap="round"/></g>
</g>
<rect x="1125.3" y="398.5" width="455.7" height="63.2" rx="3.5" fill="none" stroke="#000" stroke-width="2.8"/>
<text x="842.1" y="435.5" font-size="29.0" class="d">Cleaved caspase 3</text>
<text x="1596.7" y="430.0" font-size="29.2" class="d">19 kDa</text>
<line x1="1581.2" y1="420.5" x2="1592.1" y2="420.5" stroke="#000" stroke-width="2.8"/>
<text x="1596.7" y="458.5" font-size="29.2" class="d">17 kDa</text>
<line x1="1581.2" y1="450.0" x2="1592.1" y2="450.0" stroke="#000" stroke-width="2.8"/>
<clipPath id="c16"><rect x="1125.4" y="497.5" width="456.2" height="63.7" rx="3"/></clipPath>
<rect x="1125.4" y="497.5" width="456.2" height="63.7" rx="3" fill="#ececec"/>
<g clip-path="url(#c16)">
<filter id="f16b3" filterUnits="userSpaceOnUse" x="1110" y="482" width="486" height="94"><feGaussianBlur stdDeviation="3"/></filter>
<g filter="url(#f16b3)">
<path d="M1151.1 538.5 Q1186.6 539.5 1222.1 538.5" fill="none" stroke="#000" stroke-opacity="1" stroke-width="27" stroke-linecap="round"/>
<path d="M1263.9 537.5 Q1296.7 538.5 1329.5 537.5" fill="none" stroke="#000" stroke-opacity="1" stroke-width="23" stroke-linecap="round"/>
<path d="M1366.5 535.5 Q1402.4 532.5 1438.3 529.5" fill="none" stroke="#000" stroke-opacity="1" stroke-width="11" stroke-linecap="round"/>
<path d="M1369.0 541.5 Q1402.5 539.8 1436.0 538.0" fill="none" stroke="#111" stroke-opacity="0.8" stroke-width="12" stroke-linecap="round"/>
<path d="M1477.5 538.0 Q1514.0 537.0 1550.5 530.0" fill="none" stroke="#000" stroke-opacity="1" stroke-width="25" stroke-linecap="round"/>
</g>
<filter id="f16h" filterUnits="userSpaceOnUse" x="1110" y="482" width="486" height="94"><feGaussianBlur stdDeviation="5"/></filter>
<g filter="url(#f16h)"><path d="M1151.1 538.5 Q1186.6 539.5 1222.1 538.5" fill="none" stroke="#000" stroke-opacity="0.33" stroke-width="32" stroke-linecap="round"/><path d="M1263.9 537.5 Q1296.7 538.5 1329.5 537.5" fill="none" stroke="#000" stroke-opacity="0.33" stroke-width="28" stroke-linecap="round"/><path d="M1366.5 535.5 Q1402.4 532.5 1438.3 529.5" fill="none" stroke="#000" stroke-opacity="0.33" stroke-width="16" stroke-linecap="round"/><path d="M1369.0 541.5 Q1402.5 539.8 1436.0 538.0" fill="none" stroke="#111" stroke-opacity="0.26" stroke-width="17" stroke-linecap="round"/><path d="M1477.5 538.0 Q1514.0 537.0 1550.5 530.0" fill="none" stroke="#000" stroke-opacity="0.33" stroke-width="30" stroke-linecap="round"/></g>
</g>
<rect x="1125.4" y="497.5" width="456.2" height="63.7" rx="3.5" fill="none" stroke="#000" stroke-width="2.8"/>
<text x="963.5" y="538.7" font-size="29.0" class="d">Caspase 8</text>
<text x="1596.7" y="538.2" font-size="29.2" class="d">57 kDa</text>
<line x1="1581.8" y1="527.0" x2="1592.7" y2="527.0" stroke="#000" stroke-width="2.8"/>
<clipPath id="c17"><rect x="1125.4" y="595.5" width="456.2" height="63.7" rx="3"/></clipPath>
<rect x="1125.4" y="595.5" width="456.2" height="63.7" rx="3" fill="#f0f0f0"/>
<g clip-path="url(#c17)">
<filter id="f17b3" filterUnits="userSpaceOnUse" x="1110" y="580" width="486" height="94"><feGaussianBlur stdDeviation="3"/></filter>
<g filter="url(#f17b3)">
<path d="M1367.7 623.0 Q1405.3 622.8 1443.0 622.5" fill="none" stroke="#555" stroke-opacity="0.4" stroke-width="10" stroke-linecap="round"/>
<path d="M1367.2 641.0 Q1405.3 640.8 1443.5 640.5" fill="none" stroke="#555" stroke-opacity="0.42" stroke-width="9" stroke-linecap="round"/>
<path d="M1477.8 615.0 Q1521.8 614.8 1565.8 614.5" fill="none" stroke="#555" stroke-opacity="0.38" stroke-width="6.5" stroke-linecap="round"/>
<path d="M1479.0 623.0 Q1521.8 622.2 1564.5 621.5" fill="none" stroke="#444" stroke-opacity="0.5" stroke-width="9" stroke-linecap="round"/>
<path d="M1479.5 637.0 Q1521.8 636.2 1564.0 635.5" fill="none" stroke="#444" stroke-opacity="0.52" stroke-width="10" stroke-linecap="round"/>
<path d="M1138.5 619.5 Q1183.5 619.5 1228.5 619.5" fill="none" stroke="#777" stroke-opacity="0.12" stroke-width="7" stroke-linecap="round"/>
<path d="M1256.0 617.0 Q1293.5 616.5 1331.0 616.0" fill="none" stroke="#777" stroke-opacity="0.15" stroke-width="8" stroke-linecap="round"/>
<path d="M1261.0 646.0 Q1299.0 645.5 1337.0 645.0" fill="none" stroke="#777" stroke-opacity="0.12" stroke-width="6" stroke-linecap="round"/>
</g>
</g>
<rect x="1125.4" y="595.5" width="456.2" height="63.7" rx="3.5" fill="none" stroke="#000" stroke-width="2.8"/>
<text x="841.8" y="639.6" font-size="29.0" class="d">Cleaved caspase 8</text>
<text x="1597.2" y="637.2" font-size="29.2" class="d" letter-spacing="0.6">41/43 kDa</text>
<line x1="1581.8" y1="627.0" x2="1592.7" y2="627.0" stroke="#000" stroke-width="2.8"/>
<clipPath id="c18"><rect x="1126.5" y="694.5" width="456.0" height="63.2" rx="3"/></clipPath>
<rect x="1126.5" y="694.5" width="456.0" height="63.2" rx="3" fill="#f1f1f1"/>
<g clip-path="url(#c18)">
<filter id="f18b3" filterUnits="userSpaceOnUse" x="1112" y="680" width="486" height="93"><feGaussianBlur stdDeviation="3"/></filter>
<g filter="url(#f18b3)">
<path d="M1144.5 730.5 Q1184.2 730.5 1223.9 730.5" fill="none" stroke="#666" stroke-opacity="0.3" stroke-width="11" stroke-linecap="round"/>
<path d="M1264.0 731.0 Q1299.1 730.8 1334.2 730.5" fill="none" stroke="#666" stroke-opacity="0.33" stroke-width="11" stroke-linecap="round"/>
<path d="M1377.5 729.5 Q1410.2 729.2 1442.9 729.0" fill="none" stroke="#666" stroke-opacity="0.33" stroke-width="11" stroke-linecap="round"/>
<path d="M1486.1 723.0 Q1526.5 722.2 1567.0 721.5" fill="none" stroke="#666" stroke-opacity="0.35" stroke-width="11" stroke-linecap="round"/>
</g>
</g>
<rect x="1126.5" y="694.5" width="456.0" height="63.2" rx="3.5" fill="none" stroke="#000" stroke-width="2.8"/>
<text x="842.9" y="735.6" font-size="29.0" class="d">Cleaved caspase 8</text>
<text x="1596.9" y="736.1" font-size="29.2" class="d">18 kDa</text>
<line x1="1582.7" y1="726.8" x2="1593.6" y2="726.8" stroke="#000" stroke-width="2.8"/>
<clipPath id="c19"><rect x="1128.4" y="792.5" width="456.2" height="63.2" rx="3"/></clipPath>
<linearGradient id="g19" x1="0" y1="0" x2="1" y2="0"><stop offset="0" stop-color="#d2d2d2"/><stop offset="0.5" stop-color="#dcdcdc"/><stop offset="1" stop-color="#e2e2e2"/></linearGradient>
<rect x="1128.4" y="792.5" width="456.2" height="63.2" rx="3" fill="url(#g19)"/>
<g clip-path="url(#c19)">
<filter id="f19b3" filterUnits="userSpaceOnUse" x="1113" y="778" width="486" height="93"><feGaussianBlur stdDeviation="3"/></filter>
<g filter="url(#f19b3)">
<path d="M1138.2 814.0 Q1181.2 816.0 1224.2 818.0" fill="none" stroke="#000" stroke-opacity="1" stroke-width="16.5" stroke-linecap="round"/>
<path d="M1256.2 817.5 Q1295.3 818.2 1334.5 819.0" fill="none" stroke="#000" stroke-opacity="1" stroke-width="10.5" stroke-linecap="round"/>
<path d="M1367.0 821.0 Q1405.5 821.2 1444.0 821.5" fill="none" stroke="#000" stroke-opacity="1" stroke-width="12" stroke-linecap="round"/>
<path d="M1475.2 821.5 Q1515.5 821.5 1555.8 821.5" fill="none" stroke="#000" stroke-opacity="1" stroke-width="14.5" stroke-linecap="round"/>
</g>
<filter id="f19h" filterUnits="userSpaceOnUse" x="1113" y="778" width="486" height="93"><feGaussianBlur stdDeviation="5"/></filter>
<g filter="url(#f19h)"><path d="M1138.2 814.0 Q1181.2 816.0 1224.2 818.0" fill="none" stroke="#000" stroke-opacity="0.33" stroke-width="21.5" stroke-linecap="round"/><path d="M1256.2 817.5 Q1295.3 818.2 1334.5 819.0" fill="none" stroke="#000" stroke-opacity="0.33" stroke-width="15.5" stroke-linecap="round"/><path d="M1367.0 821.0 Q1405.5 821.2 1444.0 821.5" fill="none" stroke="#000" stroke-opacity="0.33" stroke-width="17" stroke-linecap="round"/><path d="M1475.2 821.5 Q1515.5 821.5 1555.8 821.5" fill="none" stroke="#000" stroke-opacity="0.33" stroke-width="19.5" stroke-linecap="round"/></g>
</g>
<rect x="1128.4" y="792.5" width="456.2" height="63.2" rx="3.5" fill="none" stroke="#000" stroke-width="2.8"/>
<text x="965.3" y="835.9" font-size="29.0" class="d">Caspase 9</text>
<text x="1599.5" y="834.8" font-size="29.2" class="d">47 kDa</text>
<line x1="1584.8" y1="825.0" x2="1595.7" y2="825.0" stroke="#000" stroke-width="2.8"/>
<clipPath id="c20"><rect x="1127.5" y="891.5" width="456.5" height="64.7" rx="3"/></clipPath>
<rect x="1127.5" y="891.5" width="456.5" height="64.7" rx="3" fill="#e8e8e8"/>
<g clip-path="url(#c20)">
<filter id="f20b3" filterUnits="userSpaceOnUse" x="1112" y="876" width="486" height="95"><feGaussianBlur stdDeviation="3"/></filter>
<g filter="url(#f20b3)">
<path d="M1143.8 933.0 Q1186.5 930.8 1229.2 932.5" fill="none" stroke="#555" stroke-opacity="0.4" stroke-width="6.5" stroke-linecap="round"/>
<path d="M1258.8 934.5 Q1299.9 933.5 1341.0 934.5" fill="none" stroke="#555" stroke-opacity="0.4" stroke-width="6.5" stroke-linecap="round"/>
<path d="M1370.2 916.0 Q1407.8 916.0 1445.5 916.0" fill="none" stroke="#666" stroke-opacity="0.22" stroke-width="9" stroke-linecap="round"/>
<path d="M1369.5 935.5 Q1407.8 935.0 1446.2 934.5" fill="none" stroke="#444" stroke-opacity="0.5" stroke-width="7.5" stroke-linecap="round"/>
<path d="M1475.9 916.0 Q1514.2 915.8 1552.5 915.5" fill="none" stroke="#666" stroke-opacity="0.25" stroke-width="9" stroke-linecap="round"/>
<path d="M1474.9 935.0 Q1514.2 934.2 1553.5 935.5" fill="none" stroke="#444" stroke-opacity="0.48" stroke-width="7" stroke-linecap="round"/>
<path d="M1547.5 936.0 Q1558.5 937.5 1569.5 939.0" fill="none" stroke="#555" stroke-opacity="0.3" stroke-width="5" stroke-linecap="round"/>
</g>
</g>
<rect x="1127.5" y="891.5" width="456.5" height="64.7" rx="3.5" fill="none" stroke="#000" stroke-width="2.8"/>
<text x="840.9" y="933.4" font-size="29.0" class="d">Cleaved caspase 9</text>
<text x="1599.2" y="931.9" font-size="29.2" class="d" letter-spacing="0.6">35/37 kDa</text>
<line x1="1584.2" y1="921.0" x2="1595.1" y2="921.0" stroke="#000" stroke-width="2.8"/>
<rect x="118.60" y="1520.80" width="37.60" height="129.50" fill="#A00000" stroke="#000" stroke-width="2.4"/>
<rect x="179.50" y="1512.26" width="37.60" height="138.04" fill="#FF0000" stroke="#000" stroke-width="2.4"/>
<rect x="230.30" y="1516.86" width="37.60" height="133.44" fill="#F84444" stroke="#000" stroke-width="2.4"/>
<rect x="281.30" y="1522.11" width="37.60" height="128.19" fill="#FF8080" stroke="#000" stroke-width="2.4"/>
<path d="M198.40 1497.92V1522.88M188.40 1497.92H208.40M188.40 1522.88H208.40" fill="none" stroke="#000" stroke-width="1.8"/>
<path d="M249.40 1509.09V1521.57M239.40 1509.09H259.40M239.40 1521.57H259.40" fill="none" stroke="#000" stroke-width="1.8"/>
<path d="M300.40 1518.94V1521.57M290.40 1518.94H310.40M290.40 1521.57H310.40" fill="none" stroke="#000" stroke-width="1.8"/>
<line x1="96.6" y1="1453.0" x2="96.6" y2="1652.0" stroke="#000" stroke-width="1.9"/>
<line x1="88.6" y1="1651.0" x2="341.6" y2="1651.0" stroke="#000" stroke-width="1.9"/>
<text x="87.0" y="1656.3" font-size="14.7" class="l" font-weight="bold" text-anchor="end">0.0</text>
<line x1="88.6" y1="1585.3" x2="96.6" y2="1585.3" stroke="#000" stroke-width="1.9"/>
<text x="87.0" y="1590.6" font-size="14.7" class="l" font-weight="bold" text-anchor="end">0.5</text>
<line x1="88.6" y1="1519.6" x2="96.6" y2="1519.6" stroke="#000" stroke-width="1.9"/>
<text x="87.0" y="1524.9" font-size="14.7" class="l" font-weight="bold" text-anchor="end">1.0</text>
<line x1="88.6" y1="1453.9" x2="96.6" y2="1453.9" stroke="#000" stroke-width="1.9"/>
<text x="87.0" y="1459.2" font-size="14.7" class="l" font-weight="bold" text-anchor="end">1.5</text>
<line x1="137.3" y1="1651.0" x2="137.3" y2="1659.0" stroke="#000" stroke-width="1.9"/>
<line x1="198.3" y1="1651.0" x2="198.3" y2="1659.0" stroke="#000" stroke-width="1.9"/>
<line x1="249.3" y1="1651.0" x2="249.3" y2="1659.0" stroke="#000" stroke-width="1.9"/>
<line x1="300.3" y1="1651.0" x2="300.3" y2="1659.0" stroke="#000" stroke-width="1.9"/>
<text x="137.6" y="1675.0" font-size="14.8" class="l" font-weight="bold" text-anchor="middle">DMSO</text>
<text x="198.6" y="1675.0" font-size="14.8" class="l" font-weight="bold" text-anchor="middle">6h</text>
<text x="249.6" y="1675.0" font-size="14.8" class="l" font-weight="bold" text-anchor="middle">24h</text>
<text x="300.6" y="1675.0" font-size="14.8" class="l" font-weight="bold" text-anchor="middle">48h</text>
<line x1="179.6" y1="1687.5" x2="319.1" y2="1687.5" stroke="#000" stroke-width="3"/>
<text x="249.6" y="1705.0" font-size="15.9" class="l" font-weight="bold" text-anchor="middle">PCH-1</text>
<text x="219.5" y="1432.5" font-size="19.5" class="l" font-weight="bold" text-anchor="middle">Bcl-2</text>
<text transform="translate(54.0 1550.7) rotate(-90)" font-size="16.3" class="l" font-weight="bold" text-anchor="middle">Relative protein expression</text>
<rect x="442.20" y="1590.70" width="37.60" height="63.60" fill="#A00000" stroke="#000" stroke-width="2.4"/>
<rect x="503.10" y="1512.10" width="37.60" height="142.20" fill="#FF0000" stroke="#000" stroke-width="2.4"/>
<rect x="553.90" y="1503.59" width="37.60" height="150.72" fill="#F84444" stroke="#000" stroke-width="2.4"/>
<rect x="604.90" y="1529.46" width="37.60" height="124.84" fill="#FF8080" stroke="#000" stroke-width="2.4"/>
<path d="M522.00 1501.73V1519.09M512.00 1501.73H532.00M512.00 1519.09H532.00" fill="none" stroke="#000" stroke-width="1.8"/>
<path d="M573.00 1496.49V1507.95M563.00 1496.49H583.00M563.00 1507.95H583.00" fill="none" stroke="#000" stroke-width="1.8"/>
<path d="M624.00 1522.36V1532.84M614.00 1522.36H634.00M614.00 1532.84H634.00" fill="none" stroke="#000" stroke-width="1.8"/>
<line x1="420.2" y1="1457.5" x2="420.2" y2="1656.0" stroke="#000" stroke-width="1.9"/>
<line x1="412.2" y1="1655.0" x2="665.2" y2="1655.0" stroke="#000" stroke-width="1.9"/>
<text x="410.6" y="1660.3" font-size="14.7" class="l" font-weight="bold" text-anchor="end">0</text>
<line x1="412.2" y1="1589.5" x2="420.2" y2="1589.5" stroke="#000" stroke-width="1.9"/>
<text x="410.6" y="1594.8" font-size="14.7" class="l" font-weight="bold" text-anchor="end">1</text>
<line x1="412.2" y1="1524.0" x2="420.2" y2="1524.0" stroke="#000" stroke-width="1.9"/>
<text x="410.6" y="1529.3" font-size="14.7" class="l" font-weight="bold" text-anchor="end">2</text>
<line x1="412.2" y1="1458.5" x2="420.2" y2="1458.5" stroke="#000" stroke-width="1.9"/>
<text x="410.6" y="1463.8" font-size="14.7" class="l" font-weight="bold" text-anchor="end">3</text>
<line x1="460.9" y1="1655.0" x2="460.9" y2="1663.0" stroke="#000" stroke-width="1.9"/>
<line x1="521.9" y1="1655.0" x2="521.9" y2="1663.0" stroke="#000" stroke-width="1.9"/>
<line x1="572.9" y1="1655.0" x2="572.9" y2="1663.0" stroke="#000" stroke-width="1.9"/>
<line x1="623.9" y1="1655.0" x2="623.9" y2="1663.0" stroke="#000" stroke-width="1.9"/>
<text x="461.2" y="1679.0" font-size="14.8" class="l" font-weight="bold" text-anchor="middle">DMSO</text>
<text x="522.2" y="1679.0" font-size="14.8" class="l" font-weight="bold" text-anchor="middle">6h</text>
<text x="573.2" y="1679.0" font-size="14.8" class="l" font-weight="bold" text-anchor="middle">24h</text>
<text x="624.2" y="1679.0" font-size="14.8" class="l" font-weight="bold" text-anchor="middle">48h</text>
<line x1="503.2" y1="1691.5" x2="642.7" y2="1691.5" stroke="#000" stroke-width="3"/>
<text x="573.2" y="1709.0" font-size="15.9" class="l" font-weight="bold" text-anchor="middle">PCH-1</text>
<text x="542.0" y="1432.8" font-size="19.5" class="l" font-weight="bold" text-anchor="middle">Bax</text>
<text transform="translate(390.8 1555.0) rotate(-90)" font-size="16.3" class="l" font-weight="bold" text-anchor="middle">Relative protein expression</text>
<path d="M460.60 1466.70V1453.20H623.60V1510.50" fill="none" stroke="#000" stroke-width="1.8" stroke-linejoin="miter"/>
<text x="543.8" y="1449.7" font-size="18.5" class="d" font-weight="bold" text-anchor="middle" letter-spacing="2.2" stroke="#000" stroke-width="0.35">*</text>
<path d="M460.60 1577.20V1478.80H572.60V1484.20" fill="none" stroke="#000" stroke-width="1.8" stroke-linejoin="miter"/>
<text x="519.1" y="1474.8" font-size="18.5" class="d" font-weight="bold" text-anchor="middle" letter-spacing="2.2" stroke="#000" stroke-width="0.35">**</text>
<rect x="790.30" y="1526.00" width="37.60" height="129.30" fill="#A00000" stroke="#000" stroke-width="2.4"/>
<rect x="851.20" y="1508.29" width="37.60" height="147.01" fill="#FF0000" stroke="#000" stroke-width="2.4"/>
<rect x="902.00" y="1540.43" width="37.60" height="114.87" fill="#F84444" stroke="#000" stroke-width="2.4"/>
<rect x="953.00" y="1600.13" width="37.60" height="55.17" fill="#FF8080" stroke="#000" stroke-width="2.4"/>
<path d="M870.10 1480.85V1532.02M860.10 1480.85H880.10M860.10 1532.02H880.10" fill="none" stroke="#000" stroke-width="1.8"/>
<path d="M921.10 1537.26V1539.89M911.10 1537.26H931.10M911.10 1539.89H931.10" fill="none" stroke="#000" stroke-width="1.8"/>
<path d="M972.10 1594.34V1602.86M962.10 1594.34H982.10M962.10 1602.86H982.10" fill="none" stroke="#000" stroke-width="1.8"/>
<line x1="768.3" y1="1458.2" x2="768.3" y2="1657.0" stroke="#000" stroke-width="1.9"/>
<line x1="760.3" y1="1656.0" x2="1013.3" y2="1656.0" stroke="#000" stroke-width="1.9"/>
<text x="758.7" y="1661.3" font-size="14.7" class="l" font-weight="bold" text-anchor="end">0.0</text>
<line x1="760.3" y1="1590.4" x2="768.3" y2="1590.4" stroke="#000" stroke-width="1.9"/>
<text x="758.7" y="1595.7" font-size="14.7" class="l" font-weight="bold" text-anchor="end">0.5</text>
<line x1="760.3" y1="1524.8" x2="768.3" y2="1524.8" stroke="#000" stroke-width="1.9"/>
<text x="758.7" y="1530.1" font-size="14.7" class="l" font-weight="bold" text-anchor="end">1.0</text>
<line x1="760.3" y1="1459.2" x2="768.3" y2="1459.2" stroke="#000" stroke-width="1.9"/>
<text x="758.7" y="1464.5" font-size="14.7" class="l" font-weight="bold" text-anchor="end">1.5</text>
<line x1="809.0" y1="1656.0" x2="809.0" y2="1664.0" stroke="#000" stroke-width="1.9"/>
<line x1="870.0" y1="1656.0" x2="870.0" y2="1664.0" stroke="#000" stroke-width="1.9"/>
<line x1="921.0" y1="1656.0" x2="921.0" y2="1664.0" stroke="#000" stroke-width="1.9"/>
<line x1="972.0" y1="1656.0" x2="972.0" y2="1664.0" stroke="#000" stroke-width="1.9"/>
<text x="809.3" y="1680.0" font-size="14.8" class="l" font-weight="bold" text-anchor="middle">DMSO</text>
<text x="870.3" y="1680.0" font-size="14.8" class="l" font-weight="bold" text-anchor="middle">6h</text>
<text x="921.3" y="1680.0" font-size="14.8" class="l" font-weight="bold" text-anchor="middle">24h</text>
<text x="972.3" y="1680.0" font-size="14.8" class="l" font-weight="bold" text-anchor="middle">48h</text>
<line x1="851.3" y1="1692.5" x2="990.8" y2="1692.5" stroke="#000" stroke-width="3"/>
<text x="921.3" y="1710.0" font-size="15.9" class="l" font-weight="bold" text-anchor="middle">PCH-1</text>
<text x="891.4" y="1434.0" font-size="19.5" class="l" font-weight="bold" text-anchor="middle">Bid</text>
<text transform="translate(725.6 1555.8) rotate(-90)" font-size="16.3" class="l" font-weight="bold" text-anchor="middle">Relative protein expression</text>
<path d="M809.00 1513.30V1458.00H971.70V1582.70" fill="none" stroke="#000" stroke-width="1.8" stroke-linejoin="miter"/>
<text x="891.9" y="1454.5" font-size="18.5" class="d" font-weight="bold" text-anchor="middle" letter-spacing="2.2" stroke="#000" stroke-width="0.35">*</text>
<rect x="126.90" y="1870.70" width="37.60" height="129.10" fill="#A00000" stroke="#000" stroke-width="2.4"/>
<rect x="187.80" y="1867.42" width="37.60" height="132.38" fill="#FF0000" stroke="#000" stroke-width="2.4"/>
<rect x="238.60" y="1904.76" width="37.60" height="95.04" fill="#F84444" stroke="#000" stroke-width="2.4"/>
<rect x="289.60" y="1905.41" width="37.60" height="94.39" fill="#FF8080" stroke="#000" stroke-width="2.4"/>
<path d="M206.70 1860.99V1870.81M196.70 1860.99H216.70M196.70 1870.81H216.70" fill="none" stroke="#000" stroke-width="1.8"/>
<path d="M257.70 1895.05V1911.42M247.70 1895.05H267.70M247.70 1911.42H267.70" fill="none" stroke="#000" stroke-width="1.8"/>
<path d="M308.70 1896.36V1911.42M298.70 1896.36H318.70M298.70 1911.42H318.70" fill="none" stroke="#000" stroke-width="1.8"/>
<line x1="104.9" y1="1803.0" x2="104.9" y2="2001.5" stroke="#000" stroke-width="1.9"/>
<line x1="96.9" y1="2000.5" x2="349.9" y2="2000.5" stroke="#000" stroke-width="1.9"/>
<text x="95.3" y="2005.8" font-size="14.7" class="l" font-weight="bold" text-anchor="end">0.0</text>
<line x1="96.9" y1="1935.0" x2="104.9" y2="1935.0" stroke="#000" stroke-width="1.9"/>
<text x="95.3" y="1940.3" font-size="14.7" class="l" font-weight="bold" text-anchor="end">0.5</text>
<line x1="96.9" y1="1869.5" x2="104.9" y2="1869.5" stroke="#000" stroke-width="1.9"/>
<text x="95.3" y="1874.8" font-size="14.7" class="l" font-weight="bold" text-anchor="end">1.0</text>
<line x1="96.9" y1="1804.0" x2="104.9" y2="1804.0" stroke="#000" stroke-width="1.9"/>
<text x="95.3" y="1809.3" font-size="14.7" class="l" font-weight="bold" text-anchor="end">1.5</text>
<line x1="145.6" y1="2000.5" x2="145.6" y2="2008.5" stroke="#000" stroke-width="1.9"/>
<line x1="206.6" y1="2000.5" x2="206.6" y2="2008.5" stroke="#000" stroke-width="1.9"/>
<line x1="257.6" y1="2000.5" x2="257.6" y2="2008.5" stroke="#000" stroke-width="1.9"/>
<line x1="308.6" y1="2000.5" x2="308.6" y2="2008.5" stroke="#000" stroke-width="1.9"/>
<text x="145.9" y="2024.5" font-size="14.8" class="l" font-weight="bold" text-anchor="middle">DMSO</text>
<text x="206.9" y="2024.5" font-size="14.8" class="l" font-weight="bold" text-anchor="middle">6h</text>
<text x="257.9" y="2024.5" font-size="14.8" class="l" font-weight="bold" text-anchor="middle">24h</text>
<text x="308.9" y="2024.5" font-size="14.8" class="l" font-weight="bold" text-anchor="middle">48h</text>
<line x1="187.9" y1="2037.0" x2="327.4" y2="2037.0" stroke="#000" stroke-width="3"/>
<text x="257.9" y="2054.5" font-size="15.9" class="l" font-weight="bold" text-anchor="middle">PCH-1</text>
<text x="226.7" y="1779.0" font-size="19.5" class="l" font-weight="bold" text-anchor="middle">hTERT</text>
<text transform="translate(63.2 1900.5) rotate(-90)" font-size="16.3" class="l" font-weight="bold" text-anchor="middle">Relative protein expression</text>
<path d="M146.00 1826.40V1812.80H308.80V1884.00" fill="none" stroke="#000" stroke-width="1.8" stroke-linejoin="miter"/>
<text x="228.9" y="1808.9" font-size="18.5" class="d" font-weight="bold" text-anchor="middle" letter-spacing="2.2" stroke="#000" stroke-width="0.35">*</text>
<path d="M146.00 1862.00V1834.70H257.80V1862.00" fill="none" stroke="#000" stroke-width="1.8" stroke-linejoin="miter"/>
<text x="203.3" y="1831.4" font-size="18.5" class="d" font-weight="bold" text-anchor="middle" letter-spacing="2.2" stroke="#000" stroke-width="0.35">*</text>
<rect x="457.00" y="1871.20" width="37.60" height="129.10" fill="#A00000" stroke="#000" stroke-width="2.4"/>
<rect x="517.90" y="1875.39" width="37.60" height="124.91" fill="#FF0000" stroke="#000" stroke-width="2.4"/>
<rect x="568.70" y="1931.72" width="37.60" height="68.58" fill="#F84444" stroke="#000" stroke-width="2.4"/>
<rect x="619.70" y="1937.09" width="37.60" height="63.21" fill="#FF8080" stroke="#000" stroke-width="2.4"/>
<path d="M536.80 1868.43V1878.51M526.80 1868.43H546.80M526.80 1878.51H546.80" fill="none" stroke="#000" stroke-width="1.8"/>
<path d="M587.80 1924.76V1934.19M577.80 1924.76H597.80M577.80 1934.19H597.80" fill="none" stroke="#000" stroke-width="1.8"/>
<path d="M638.80 1929.61V1941.39M628.80 1929.61H648.80M628.80 1941.39H648.80" fill="none" stroke="#000" stroke-width="1.8"/>
<line x1="435.0" y1="1803.5" x2="435.0" y2="2002.0" stroke="#000" stroke-width="1.9"/>
<line x1="427.0" y1="2001.0" x2="680.0" y2="2001.0" stroke="#000" stroke-width="1.9"/>
<text x="425.4" y="2006.3" font-size="14.7" class="l" font-weight="bold" text-anchor="end">0.0</text>
<line x1="427.0" y1="1935.5" x2="435.0" y2="1935.5" stroke="#000" stroke-width="1.9"/>
<text x="425.4" y="1940.8" font-size="14.7" class="l" font-weight="bold" text-anchor="end">0.5</text>
<line x1="427.0" y1="1870.0" x2="435.0" y2="1870.0" stroke="#000" stroke-width="1.9"/>
<text x="425.4" y="1875.3" font-size="14.7" class="l" font-weight="bold" text-anchor="end">1.0</text>
<line x1="427.0" y1="1804.5" x2="435.0" y2="1804.5" stroke="#000" stroke-width="1.9"/>
<text x="425.4" y="1809.8" font-size="14.7" class="l" font-weight="bold" text-anchor="end">1.5</text>
<line x1="475.7" y1="2001.0" x2="475.7" y2="2009.0" stroke="#000" stroke-width="1.9"/>
<line x1="536.7" y1="2001.0" x2="536.7" y2="2009.0" stroke="#000" stroke-width="1.9"/>
<line x1="587.7" y1="2001.0" x2="587.7" y2="2009.0" stroke="#000" stroke-width="1.9"/>
<line x1="638.7" y1="2001.0" x2="638.7" y2="2009.0" stroke="#000" stroke-width="1.9"/>
<text x="476.0" y="2025.0" font-size="14.8" class="l" font-weight="bold" text-anchor="middle">DMSO</text>
<text x="537.0" y="2025.0" font-size="14.8" class="l" font-weight="bold" text-anchor="middle">6h</text>
<text x="588.0" y="2025.0" font-size="14.8" class="l" font-weight="bold" text-anchor="middle">24h</text>
<text x="639.0" y="2025.0" font-size="14.8" class="l" font-weight="bold" text-anchor="middle">48h</text>
<line x1="518.0" y1="2037.5" x2="657.5" y2="2037.5" stroke="#000" stroke-width="3"/>
<text x="588.0" y="2055.0" font-size="15.9" class="l" font-weight="bold" text-anchor="middle">PCH-1</text>
<text x="559.0" y="1779.0" font-size="19.5" class="l" font-weight="bold" text-anchor="middle">Vimentin</text>
<text transform="translate(392.9 1901.0) rotate(-90)" font-size="16.3" class="l" font-weight="bold" text-anchor="middle">Relative protein expression</text>
<path d="M476.00 1833.60V1806.90H638.70V1917.80" fill="none" stroke="#000" stroke-width="1.8" stroke-linejoin="miter"/>
<text x="559.7" y="1803.0" font-size="18.5" class="d" font-weight="bold" text-anchor="middle" letter-spacing="2.2" stroke="#000" stroke-width="0.35">**</text>
<path d="M476.00 1858.30V1845.00H588.00V1913.50" fill="none" stroke="#000" stroke-width="1.8" stroke-linejoin="miter"/>
<text x="534.4" y="1841.7" font-size="18.5" class="d" font-weight="bold" text-anchor="middle" letter-spacing="2.2" stroke="#000" stroke-width="0.35">**</text>
<rect x="800.30" y="1870.70" width="37.60" height="129.10" fill="#A00000" stroke="#000" stroke-width="2.4"/>
<rect x="861.20" y="1881.44" width="37.60" height="118.36" fill="#FF0000" stroke="#000" stroke-width="2.4"/>
<rect x="912.00" y="1933.32" width="37.60" height="66.48" fill="#F84444" stroke="#000" stroke-width="2.4"/>
<rect x="963.00" y="1939.87" width="37.60" height="59.93" fill="#FF8080" stroke="#000" stroke-width="2.4"/>
<path d="M880.10 1876.05V1883.91M870.10 1876.05H890.10M870.10 1883.91H890.10" fill="none" stroke="#000" stroke-width="1.8"/>
<path d="M931.10 1926.88V1936.96M921.10 1926.88H941.10M921.10 1936.96H941.10" fill="none" stroke="#000" stroke-width="1.8"/>
<path d="M982.10 1933.43V1943.52M972.10 1933.43H992.10M972.10 1943.52H992.10" fill="none" stroke="#000" stroke-width="1.8"/>
<line x1="778.3" y1="1803.0" x2="778.3" y2="2001.5" stroke="#000" stroke-width="1.9"/>
<line x1="770.3" y1="2000.5" x2="1023.3" y2="2000.5" stroke="#000" stroke-width="1.9"/>
<text x="768.7" y="2005.8" font-size="14.7" class="l" font-weight="bold" text-anchor="end">0.0</text>
<line x1="770.3" y1="1935.0" x2="778.3" y2="1935.0" stroke="#000" stroke-width="1.9"/>
<text x="768.7" y="1940.3" font-size="14.7" class="l" font-weight="bold" text-anchor="end">0.5</text>
<line x1="770.3" y1="1869.5" x2="778.3" y2="1869.5" stroke="#000" stroke-width="1.9"/>
<text x="768.7" y="1874.8" font-size="14.7" class="l" font-weight="bold" text-anchor="end">1.0</text>
<line x1="770.3" y1="1804.0" x2="778.3" y2="1804.0" stroke="#000" stroke-width="1.9"/>
<text x="768.7" y="1809.3" font-size="14.7" class="l" font-weight="bold" text-anchor="end">1.5</text>
<line x1="819.0" y1="2000.5" x2="819.0" y2="2008.5" stroke="#000" stroke-width="1.9"/>
<line x1="880.0" y1="2000.5" x2="880.0" y2="2008.5" stroke="#000" stroke-width="1.9"/>
<line x1="931.0" y1="2000.5" x2="931.0" y2="2008.5" stroke="#000" stroke-width="1.9"/>
<line x1="982.0" y1="2000.5" x2="982.0" y2="2008.5" stroke="#000" stroke-width="1.9"/>
<text x="819.3" y="2024.5" font-size="14.8" class="l" font-weight="bold" text-anchor="middle">DMSO</text>
<text x="880.3" y="2024.5" font-size="14.8" class="l" font-weight="bold" text-anchor="middle">6h</text>
<text x="931.3" y="2024.5" font-size="14.8" class="l" font-weight="bold" text-anchor="middle">24h</text>
<text x="982.3" y="2024.5" font-size="14.8" class="l" font-weight="bold" text-anchor="middle">48h</text>
<line x1="861.3" y1="2037.0" x2="1000.8" y2="2037.0" stroke="#000" stroke-width="3"/>
<text x="931.3" y="2054.5" font-size="15.9" class="l" font-weight="bold" text-anchor="middle">PCH-1</text>
<text x="901.7" y="1779.0" font-size="19.5" class="l" font-weight="bold" text-anchor="middle">N-Cadherin</text>
<text transform="translate(736.2 1900.5) rotate(-90)" font-size="16.3" class="l" font-weight="bold" text-anchor="middle">Relative protein expression</text>
<path d="M819.40 1834.30V1807.80H982.00V1921.80" fill="none" stroke="#000" stroke-width="1.8" stroke-linejoin="miter"/>
<text x="903.5" y="1804.5" font-size="18.5" class="d" font-weight="bold" text-anchor="middle" letter-spacing="2.2" stroke="#000" stroke-width="0.35">***</text>
<path d="M819.40 1857.70V1846.00H931.20V1915.20" fill="none" stroke="#000" stroke-width="1.8" stroke-linejoin="miter"/>
<text x="878.3" y="1842.8" font-size="18.5" class="d" font-weight="bold" text-anchor="middle" letter-spacing="2.2" stroke="#000" stroke-width="0.35">***</text>
<rect x="199.50" y="2253.50" width="40.30" height="141.90" fill="#A00000" stroke="#000" stroke-width="3.0"/>
<rect x="265.40" y="2239.06" width="40.40" height="156.34" fill="#FF0000" stroke="#000" stroke-width="3.0"/>
<rect x="320.20" y="2296.10" width="40.70" height="99.30" fill="#F84444" stroke="#000" stroke-width="3.0"/>
<rect x="375.30" y="2357.90" width="40.50" height="37.50" fill="#FF8080" stroke="#000" stroke-width="3.0"/>
<path d="M285.20 2217.78V2256.33M274.45 2217.78H295.95M274.45 2256.33H295.95" fill="none" stroke="#000" stroke-width="1.9"/>
<path d="M340.60 2290.70V2297.77M329.85 2290.70H351.35M329.85 2297.77H351.35" fill="none" stroke="#000" stroke-width="1.9"/>
<path d="M395.70 2342.97V2369.83M384.95 2342.97H406.45M384.95 2369.83H406.45" fill="none" stroke="#000" stroke-width="1.9"/>
<line x1="175.5" y1="2178.8" x2="175.5" y2="2397.4" stroke="#000" stroke-width="2"/>
<line x1="166.5" y1="2396.4" x2="440.8" y2="2396.4" stroke="#000" stroke-width="2"/>
<text x="164.5" y="2402.2" font-size="16.3" class="l" font-weight="bold" text-anchor="end">0.0</text>
<line x1="166.5" y1="2324.2" x2="175.5" y2="2324.2" stroke="#000" stroke-width="2"/>
<text x="164.5" y="2330.0" font-size="16.3" class="l" font-weight="bold" text-anchor="end">0.5</text>
<line x1="166.5" y1="2252.0" x2="175.5" y2="2252.0" stroke="#000" stroke-width="2"/>
<text x="164.5" y="2257.8" font-size="16.3" class="l" font-weight="bold" text-anchor="end">1.0</text>
<line x1="166.5" y1="2179.8" x2="175.5" y2="2179.8" stroke="#000" stroke-width="2"/>
<text x="164.5" y="2185.6" font-size="16.3" class="l" font-weight="bold" text-anchor="end">1.5</text>
<line x1="219.4" y1="2396.4" x2="219.4" y2="2405.9" stroke="#000" stroke-width="2"/>
<line x1="285.2" y1="2396.4" x2="285.2" y2="2405.9" stroke="#000" stroke-width="2"/>
<line x1="340.6" y1="2396.4" x2="340.6" y2="2405.9" stroke="#000" stroke-width="2"/>
<line x1="395.7" y1="2396.4" x2="395.7" y2="2405.9" stroke="#000" stroke-width="2"/>
<text x="294.3" y="2111.0" font-size="21.4" class="l" font-weight="bold" text-anchor="middle">β-Catenin</text>
<text transform="translate(130.2 2287.6) rotate(-90)" font-size="17.9" class="l" font-weight="bold" text-anchor="middle">Relative protein expression</text>
<path d="M285.20 2179.00V2145.80H395.70V2329.90" fill="none" stroke="#000" stroke-width="1.9" stroke-linejoin="miter"/>
<text x="340.6" y="2142.8" font-size="21" class="d" font-weight="bold" text-anchor="middle" letter-spacing="1.5" stroke="#000" stroke-width="0.35">**</text>
<path d="M285.20 2204.70V2192.00H340.60V2278.30" fill="none" stroke="#000" stroke-width="1.9" stroke-linejoin="miter"/>
<text x="313.6" y="2188.4" font-size="21" class="d" font-weight="bold" text-anchor="middle" letter-spacing="1.5" stroke="#000" stroke-width="0.35">*</text>
<text x="124.4" y="2441.4" font-size="19.6" class="l" font-weight="bold">DMSO</text>
<text x="121.2" y="2473.3" font-size="19.6" class="l" font-weight="bold">TGF-β1</text>
<text x="124.4" y="2510.8" font-size="19.6" class="l" font-weight="bold">PCH-1</text>
<text x="219.0" y="2437.5" font-size="30" class="l" text-anchor="middle" stroke="#000" stroke-width="0.5">+</text>
<text x="283.6" y="2437.5" font-size="30" class="l" text-anchor="middle" stroke="#000" stroke-width="0.5">+</text>
<text x="339.4" y="2437.5" font-size="30" class="l" text-anchor="middle" stroke="#000" stroke-width="0.5">+</text>
<text x="395.7" y="2437.5" font-size="30" class="l" text-anchor="middle" stroke="#000" stroke-width="0.5">+</text>
<text x="219.0" y="2474.1" font-size="30" class="l" text-anchor="middle" stroke="#000" stroke-width="0.5">-</text>
<text x="283.6" y="2474.4" font-size="30" class="l" text-anchor="middle" stroke="#000" stroke-width="0.5">+</text>
<text x="339.4" y="2474.4" font-size="30" class="l" text-anchor="middle" stroke="#000" stroke-width="0.5">+</text>
<text x="395.7" y="2474.4" font-size="30" class="l" text-anchor="middle" stroke="#000" stroke-width="0.5">+</text>
<text x="219.0" y="2512.9" font-size="30" class="l" text-anchor="middle" stroke="#000" stroke-width="0.5">-</text>
<text x="283.6" y="2512.9" font-size="30" class="l" text-anchor="middle" stroke="#000" stroke-width="0.5">-</text>
<text x="339.4" y="2512.4" font-size="30" class="l" text-anchor="middle" stroke="#000" stroke-width="0.5">+</text>
<text x="395.7" y="2512.4" font-size="30" class="l" text-anchor="middle" stroke="#000" stroke-width="0.5">+</text>
<line x1="317.5" y1="2525.0" x2="416.0" y2="2525.0" stroke="#000" stroke-width="2.6"/>
<text x="318.0" y="2548.0" font-size="24.3" class="l">24h</text>
<text x="374.5" y="2548.0" font-size="24.3" class="l">48h</text>
<rect x="643.60" y="2327.10" width="41.40" height="69.00" fill="#A00000" stroke="#000" stroke-width="3.0"/>
<rect x="711.80" y="2221.28" width="41.20" height="174.82" fill="#FF0000" stroke="#000" stroke-width="3.0"/>
<rect x="767.80" y="2243.44" width="41.90" height="152.66" fill="#F84444" stroke="#000" stroke-width="3.0"/>
<rect x="824.60" y="2344.47" width="41.70" height="51.63" fill="#FF8080" stroke="#000" stroke-width="3.0"/>
<path d="M732.40 2209.98V2227.64M721.65 2209.98H743.15M721.65 2227.64H743.15" fill="none" stroke="#000" stroke-width="1.9"/>
<path d="M788.70 2233.22V2248.02M777.95 2233.22H799.45M777.95 2248.02H799.45" fill="none" stroke="#000" stroke-width="1.9"/>
<path d="M845.20 2331.53V2352.41M834.45 2331.53H855.95M834.45 2352.41H855.95" fill="none" stroke="#000" stroke-width="1.9"/>
<line x1="619.6" y1="2181.6" x2="619.6" y2="2398.1" stroke="#000" stroke-width="2"/>
<line x1="610.6" y1="2397.1" x2="891.5" y2="2397.1" stroke="#000" stroke-width="2"/>
<text x="608.6" y="2402.9" font-size="16.3" class="l" font-weight="bold" text-anchor="end">0</text>
<line x1="610.6" y1="2325.6" x2="619.6" y2="2325.6" stroke="#000" stroke-width="2"/>
<text x="608.6" y="2331.4" font-size="16.3" class="l" font-weight="bold" text-anchor="end">1</text>
<line x1="610.6" y1="2254.1" x2="619.6" y2="2254.1" stroke="#000" stroke-width="2"/>
<text x="608.6" y="2259.9" font-size="16.3" class="l" font-weight="bold" text-anchor="end">2</text>
<line x1="610.6" y1="2182.6" x2="619.6" y2="2182.6" stroke="#000" stroke-width="2"/>
<text x="608.6" y="2188.4" font-size="16.3" class="l" font-weight="bold" text-anchor="end">3</text>
<line x1="664.0" y1="2397.1" x2="664.0" y2="2406.6" stroke="#000" stroke-width="2"/>
<line x1="732.4" y1="2397.1" x2="732.4" y2="2406.6" stroke="#000" stroke-width="2"/>
<line x1="788.7" y1="2397.1" x2="788.7" y2="2406.6" stroke="#000" stroke-width="2"/>
<line x1="845.2" y1="2397.1" x2="845.2" y2="2406.6" stroke="#000" stroke-width="2"/>
<text x="744.7" y="2111.0" font-size="21.4" class="l" font-weight="bold" text-anchor="middle">N-Cadherin</text>
<text transform="translate(586.2 2289.3) rotate(-90)" font-size="17.9" class="l" font-weight="bold" text-anchor="middle">Relative protein expression</text>
<path d="M732.40 2196.90V2184.50H845.20V2318.50" fill="none" stroke="#000" stroke-width="1.9" stroke-linejoin="miter"/>
<text x="789.0" y="2180.9" font-size="21" class="d" font-weight="bold" text-anchor="middle" letter-spacing="1.5" stroke="#000" stroke-width="0.35">***</text>
<text x="573.6" y="2443.6" font-size="19.6" class="l" font-weight="bold">DMSO</text>
<text x="570.8" y="2475.2" font-size="19.6" class="l" font-weight="bold">TGF-β1</text>
<text x="573.6" y="2512.7" font-size="19.6" class="l" font-weight="bold">PCH-1</text>
<text x="664.2" y="2439.4" font-size="30" class="l" text-anchor="middle" stroke="#000" stroke-width="0.5">+</text>
<text x="728.8" y="2439.4" font-size="30" class="l" text-anchor="middle" stroke="#000" stroke-width="0.5">+</text>
<text x="788.2" y="2439.4" font-size="30" class="l" text-anchor="middle" stroke="#000" stroke-width="0.5">+</text>
<text x="844.7" y="2439.4" font-size="30" class="l" text-anchor="middle" stroke="#000" stroke-width="0.5">+</text>
<text x="664.2" y="2475.7" font-size="30" class="l" text-anchor="middle" stroke="#000" stroke-width="0.5">-</text>
<text x="728.8" y="2476.0" font-size="30" class="l" text-anchor="middle" stroke="#000" stroke-width="0.5">+</text>
<text x="788.2" y="2476.0" font-size="30" class="l" text-anchor="middle" stroke="#000" stroke-width="0.5">+</text>
<text x="844.7" y="2476.0" font-size="30" class="l" text-anchor="middle" stroke="#000" stroke-width="0.5">+</text>
<text x="664.2" y="2514.2" font-size="30" class="l" text-anchor="middle" stroke="#000" stroke-width="0.5">-</text>
<text x="728.8" y="2514.2" font-size="30" class="l" text-anchor="middle" stroke="#000" stroke-width="0.5">-</text>
<text x="788.2" y="2514.3" font-size="30" class="l" text-anchor="middle" stroke="#000" stroke-width="0.5">+</text>
<text x="844.7" y="2514.3" font-size="30" class="l" text-anchor="middle" stroke="#000" stroke-width="0.5">+</text>
<line x1="768.0" y1="2525.1" x2="866.6" y2="2525.1" stroke="#000" stroke-width="2.6"/>
<text x="767.5" y="2549.2" font-size="24.3" class="l">24h</text>
<text x="823.8" y="2549.2" font-size="24.3" class="l">48h</text>
<line x1="1150.5" y1="1137.10" x2="1612.0" y2="1137.10" stroke="#000" stroke-width="2.5" stroke-dasharray="2.5 6.6"/>
<rect x="1170.65" y="1130.40" width="31.20" height="170.25" fill="#333333" stroke="#000" stroke-width="2.3"/>
<path d="M1186.25 1116.25V1140.75M1178.00 1116.25H1194.50M1178.00 1140.75H1194.50" fill="none" stroke="#000" stroke-width="2.2"/>
<rect x="1221.15" y="1112.90" width="30.70" height="187.75" fill="#FF9E9E" stroke="#000" stroke-width="2.3"/>
<path d="M1236.50 1084.50V1137.50M1228.25 1084.50H1244.75M1228.25 1137.50H1244.75" fill="none" stroke="#000" stroke-width="2.2"/>
<rect x="1271.15" y="1159.90" width="30.70" height="140.75" fill="#F84444" stroke="#000" stroke-width="2.3"/>
<path d="M1286.50 1146.25V1169.50M1278.25 1146.25H1294.75M1278.25 1169.50H1294.75" fill="none" stroke="#000" stroke-width="2.2"/>
<rect x="1321.15" y="1174.15" width="30.95" height="126.50" fill="#A00000" stroke="#000" stroke-width="2.3"/>
<path d="M1336.62 1155.00V1189.50M1328.38 1155.00H1344.88M1328.38 1189.50H1344.88" fill="none" stroke="#000" stroke-width="2.2"/>
<rect x="1505.45" y="1283.35" width="30.70" height="17.30" fill="#F84444" stroke="#000" stroke-width="2.3"/>
<path d="M1520.80 1276.20V1287.40M1512.55 1276.20H1529.05M1512.55 1287.40H1529.05" fill="none" stroke="#000" stroke-width="2.2"/>
<rect x="1555.65" y="1266.65" width="30.60" height="34.00" fill="#A00000" stroke="#000" stroke-width="2.3"/>
<path d="M1570.95 1257.80V1271.90M1562.70 1257.80H1579.20M1562.70 1271.90H1579.20" fill="none" stroke="#000" stroke-width="2.2"/>
<line x1="1144.2" y1="1054.0" x2="1144.2" y2="1302.3" stroke="#000" stroke-width="2.3"/>
<line x1="1136.7" y1="1301.3" x2="1613.7" y2="1301.3" stroke="#000" stroke-width="2.3"/>
<text x="1134.2" y="1307.8" font-size="18.6" class="l" font-weight="bold" text-anchor="end">0.0</text>
<line x1="1136.7" y1="1219.2" x2="1144.2" y2="1219.2" stroke="#000" stroke-width="2.3"/>
<text x="1134.2" y="1225.7" font-size="18.6" class="l" font-weight="bold" text-anchor="end">0.5</text>
<line x1="1136.7" y1="1137.1" x2="1144.2" y2="1137.1" stroke="#000" stroke-width="2.3"/>
<text x="1134.2" y="1143.6" font-size="18.6" class="l" font-weight="bold" text-anchor="end">1.0</text>
<line x1="1136.7" y1="1055.0" x2="1144.2" y2="1055.0" stroke="#000" stroke-width="2.3"/>
<text x="1134.2" y="1061.5" font-size="18.6" class="l" font-weight="bold" text-anchor="end">1.5</text>
<line x1="1261.2" y1="1301.3" x2="1261.2" y2="1308.8" stroke="#000" stroke-width="2.3"/>
<text x="1261.5" y="1329.1" font-size="18.3" class="l" font-weight="bold" text-anchor="middle">Full PARP</text>
<line x1="1495.5" y1="1301.3" x2="1495.5" y2="1308.8" stroke="#000" stroke-width="2.3"/>
<text x="1496.3" y="1329.1" font-size="18.8" class="l" font-weight="bold" text-anchor="middle">Cleaved PARP</text>
<text x="1380.8" y="1038.0" font-size="22.8" class="l" font-weight="bold" text-anchor="middle">PARP</text>
<text transform="translate(1095.6 1175.2) rotate(-90)" font-size="20.6" class="l" font-weight="bold" text-anchor="middle">Relative protein expression</text>
<rect x="1633.80" y="1067.00" width="23.60" height="10.60" fill="#333333" stroke="#000" stroke-width="2"/>
<text x="1674.3" y="1079.2" font-size="20.2" class="l">DMSO</text>
<rect x="1633.80" y="1100.30" width="23.60" height="10.60" fill="#FF9E9E" stroke="#000" stroke-width="2"/>
<text x="1674.3" y="1112.5" font-size="20.2" class="l">PCH-1 6h</text>
<rect x="1633.80" y="1133.60" width="23.60" height="10.60" fill="#F84444" stroke="#000" stroke-width="2"/>
<text x="1674.3" y="1145.8" font-size="20.2" class="l">PCH-1 24h</text>
<rect x="1633.80" y="1166.90" width="23.60" height="10.60" fill="#A00000" stroke="#000" stroke-width="2"/>
<text x="1674.3" y="1179.1" font-size="20.2" class="l">PCH-1 48h</text>
<line x1="1155.0" y1="1563.40" x2="1614.0" y2="1563.40" stroke="#000" stroke-width="2.5" stroke-dasharray="2.5 6.6"/>
<rect x="1166.15" y="1483.65" width="19.45" height="201.90" fill="#333333" stroke="#000" stroke-width="2.3"/>
<path d="M1175.88 1470.50V1493.75M1170.12 1470.50H1181.62M1170.12 1493.75H1181.62" fill="none" stroke="#000" stroke-width="2.2"/>
<rect x="1199.40" y="1478.15" width="19.45" height="207.40" fill="#FF9E9E" stroke="#000" stroke-width="2.3"/>
<path d="M1209.12 1462.50V1490.00M1203.38 1462.50H1214.88M1203.38 1490.00H1214.88" fill="none" stroke="#000" stroke-width="2.2"/>
<rect x="1232.90" y="1531.15" width="19.20" height="154.40" fill="#F84444" stroke="#000" stroke-width="2.3"/>
<path d="M1242.50 1515.00V1543.75M1236.75 1515.00H1248.25M1236.75 1543.75H1248.25" fill="none" stroke="#000" stroke-width="2.2"/>
<rect x="1266.65" y="1564.15" width="19.20" height="121.40" fill="#A00000" stroke="#000" stroke-width="2.3"/>
<path d="M1276.25 1560.00V1563.75M1270.50 1560.00H1282.00M1270.50 1563.75H1282.00" fill="none" stroke="#000" stroke-width="2.2"/>
<rect x="1389.40" y="1654.40" width="18.95" height="31.15" fill="#F84444" stroke="#000" stroke-width="2.3"/>
<path d="M1398.88 1646.75V1658.75M1393.12 1646.75H1404.62M1393.12 1658.75H1404.62" fill="none" stroke="#000" stroke-width="2.2"/>
<rect x="1422.90" y="1581.90" width="18.95" height="103.65" fill="#A00000" stroke="#000" stroke-width="2.3"/>
<path d="M1432.38 1568.25V1592.00M1426.62 1568.25H1438.12M1426.62 1592.00H1438.12" fill="none" stroke="#000" stroke-width="2.2"/>
<rect x="1545.15" y="1636.15" width="19.20" height="49.40" fill="#F84444" stroke="#000" stroke-width="2.3"/>
<path d="M1554.75 1629.00V1638.90M1549.00 1629.00H1560.50M1549.00 1638.90H1560.50" fill="none" stroke="#000" stroke-width="2.2"/>
<rect x="1578.55" y="1637.65" width="19.20" height="47.90" fill="#A00000" stroke="#000" stroke-width="2.3"/>
<path d="M1588.15 1631.70V1638.90M1582.40 1631.70H1593.90M1582.40 1638.90H1593.90" fill="none" stroke="#000" stroke-width="2.2"/>
<line x1="1148.0" y1="1439.6" x2="1148.0" y2="1687.2" stroke="#000" stroke-width="2.3"/>
<line x1="1140.5" y1="1686.2" x2="1616.8" y2="1686.2" stroke="#000" stroke-width="2.3"/>
<text x="1139.2" y="1693.5" font-size="20.8" class="l" font-weight="bold" text-anchor="end">0.0</text>
<line x1="1140.5" y1="1624.8" x2="1148.0" y2="1624.8" stroke="#000" stroke-width="2.3"/>
<text x="1139.2" y="1632.1" font-size="20.8" class="l" font-weight="bold" text-anchor="end">0.5</text>
<line x1="1140.5" y1="1563.4" x2="1148.0" y2="1563.4" stroke="#000" stroke-width="2.3"/>
<text x="1139.2" y="1570.7" font-size="20.8" class="l" font-weight="bold" text-anchor="end">1.0</text>
<line x1="1140.5" y1="1502.0" x2="1148.0" y2="1502.0" stroke="#000" stroke-width="2.3"/>
<text x="1139.2" y="1509.3" font-size="20.8" class="l" font-weight="bold" text-anchor="end">1.5</text>
<line x1="1140.5" y1="1440.6" x2="1148.0" y2="1440.6" stroke="#000" stroke-width="2.3"/>
<text x="1139.2" y="1447.9" font-size="20.8" class="l" font-weight="bold" text-anchor="end">2.0</text>
<line x1="1225.5" y1="1686.2" x2="1225.5" y2="1693.7" stroke="#000" stroke-width="2.3"/>
<text x="1226.0" y="1714.0" font-size="18.6" class="l" font-weight="bold" text-anchor="middle">Full</text>
<text x="1226.0" y="1734.8" font-size="18.6" class="l" font-weight="bold" text-anchor="middle">caspase 3/p35</text>
<line x1="1381.8" y1="1686.2" x2="1381.8" y2="1693.7" stroke="#000" stroke-width="2.3"/>
<text x="1382.5" y="1714.0" font-size="18.6" class="l" font-weight="bold" text-anchor="middle">Cleaved</text>
<text x="1382.5" y="1734.8" font-size="18.6" class="l" font-weight="bold" text-anchor="middle">caspase 3/p19</text>
<line x1="1538.0" y1="1686.2" x2="1538.0" y2="1693.7" stroke="#000" stroke-width="2.3"/>
<text x="1538.6" y="1714.0" font-size="18.6" class="l" font-weight="bold" text-anchor="middle">Cleaved</text>
<text x="1538.6" y="1734.8" font-size="18.6" class="l" font-weight="bold" text-anchor="middle">caspase 3/p17</text>
<text x="1367.5" y="1379.5" font-size="24.2" class="l" font-weight="bold" text-anchor="middle">Caspase 3</text>
<text transform="translate(1099.5 1560.4) rotate(-90)" font-size="20.6" class="l" font-weight="bold" text-anchor="middle">Relative protein expression</text>
<path d="M1175.00 1421.25V1403.00H1276.25V1560.00" fill="none" stroke="#000" stroke-width="2.2" stroke-linejoin="miter"/>
<text x="1225.3" y="1398.1" font-size="22" class="d" font-weight="bold" text-anchor="middle" letter-spacing="1.6" stroke="#000" stroke-width="0.35">****</text>
<path d="M1175.00 1462.50V1440.50H1243.00V1507.50" fill="none" stroke="#000" stroke-width="2.2" stroke-linejoin="miter"/>
<text x="1208.8" y="1436.1" font-size="22" class="d" font-weight="bold" text-anchor="middle" letter-spacing="1.6" stroke="#000" stroke-width="0.35">***</text>
<path d="M1331.75 1609.25V1433.25H1432.50V1553.75" fill="none" stroke="#000" stroke-width="2.2" stroke-linejoin="miter"/>
<text x="1382.0" y="1429.3" font-size="22" class="d" font-weight="bold" text-anchor="middle" letter-spacing="1.6" stroke="#000" stroke-width="0.35">****</text>
<path d="M1331.75 1671.75V1625.00H1398.75V1632.50" fill="none" stroke="#000" stroke-width="2.2" stroke-linejoin="miter"/>
<text x="1365.3" y="1619.8" font-size="22" class="d" font-weight="bold" text-anchor="middle" letter-spacing="1.6" stroke="#000" stroke-width="0.35">**</text>
<path d="M1487.90 1574.90V1433.50H1588.60V1616.70" fill="none" stroke="#000" stroke-width="2.2" stroke-linejoin="miter"/>
<text x="1538.1" y="1428.6" font-size="22" class="d" font-weight="bold" text-anchor="middle" letter-spacing="1.6" stroke="#000" stroke-width="0.35">***</text>
<path d="M1487.90 1671.60V1608.80H1554.70V1614.30" fill="none" stroke="#000" stroke-width="2.2" stroke-linejoin="miter"/>
<text x="1521.4" y="1603.4" font-size="22" class="d" font-weight="bold" text-anchor="middle" letter-spacing="1.6" stroke="#000" stroke-width="0.35">***</text>
<rect x="1637.40" y="1452.10" width="23.60" height="10.60" fill="#333333" stroke="#000" stroke-width="2"/>
<text x="1677.9" y="1464.3" font-size="20.2" class="l">DMSO</text>
<rect x="1637.40" y="1485.40" width="23.60" height="10.60" fill="#FF9E9E" stroke="#000" stroke-width="2"/>
<text x="1677.9" y="1497.6" font-size="20.2" class="l">PCH-1 6h</text>
<rect x="1637.40" y="1518.70" width="23.60" height="10.60" fill="#F84444" stroke="#000" stroke-width="2"/>
<text x="1677.9" y="1530.9" font-size="20.2" class="l">PCH-1 24h</text>
<rect x="1637.40" y="1552.00" width="23.60" height="10.60" fill="#A00000" stroke="#000" stroke-width="2"/>
<text x="1677.9" y="1564.2" font-size="20.2" class="l">PCH-1 48h</text>
<line x1="1150.0" y1="1965.20" x2="1612.5" y2="1965.20" stroke="#000" stroke-width="2.5" stroke-dasharray="2.5 6.6"/>
<rect x="1160.50" y="1857.50" width="21.25" height="208.70" fill="#333333"/>
<rect x="1194.90" y="1877.40" width="19.45" height="188.15" fill="#FF9E9E" stroke="#000" stroke-width="2.3"/>
<path d="M1204.62 1868.00V1883.00M1198.88 1868.00H1210.38M1198.88 1883.00H1210.38" fill="none" stroke="#000" stroke-width="2.2"/>
<rect x="1228.65" y="1881.15" width="19.45" height="184.40" fill="#F84444" stroke="#000" stroke-width="2.3"/>
<path d="M1238.38 1868.25V1889.25M1232.62 1868.25H1244.12M1232.62 1889.25H1244.12" fill="none" stroke="#000" stroke-width="2.2"/>
<rect x="1262.40" y="1874.15" width="18.95" height="191.40" fill="#A00000" stroke="#000" stroke-width="2.3"/>
<path d="M1271.88 1864.50V1880.00M1266.12 1864.50H1277.62M1266.12 1880.00H1277.62" fill="none" stroke="#000" stroke-width="2.2"/>
<rect x="1386.15" y="2051.15" width="18.95" height="14.40" fill="#F84444" stroke="#000" stroke-width="2.3"/>
<path d="M1395.62 2048.25V2051.00M1389.88 2048.25H1401.38M1389.88 2051.00H1401.38" fill="none" stroke="#000" stroke-width="2.2"/>
<rect x="1419.40" y="2041.15" width="19.45" height="24.40" fill="#A00000" stroke="#000" stroke-width="2.3"/>
<path d="M1429.12 2036.75V2042.50M1423.38 2036.75H1434.88M1423.38 2042.50H1434.88" fill="none" stroke="#000" stroke-width="2.2"/>
<rect x="1475.65" y="2065.15" width="19.20" height="0.40" fill="#333333" stroke="#000" stroke-width="2.3"/>
<path d="M1485.25 2058.90V2066.00M1479.75 2058.90H1490.75M1479.75 2066.00H1490.75" fill="none" stroke="#000" stroke-width="2.2"/>
<rect x="1509.15" y="2064.65" width="19.30" height="0.90" fill="#FF9E9E" stroke="#000" stroke-width="2.3"/>
<path d="M1518.80 2058.40V2066.00M1513.30 2058.40H1524.30M1513.30 2066.00H1524.30" fill="none" stroke="#000" stroke-width="2.2"/>
<rect x="1542.45" y="2064.65" width="19.90" height="0.90" fill="#F84444" stroke="#000" stroke-width="2.3"/>
<path d="M1552.40 2058.00V2066.00M1546.90 2058.00H1557.90M1546.90 2066.00H1557.90" fill="none" stroke="#000" stroke-width="2.2"/>
<rect x="1576.65" y="2065.15" width="19.20" height="0.40" fill="#A00000" stroke="#000" stroke-width="2.3"/>
<path d="M1586.25 2058.90V2066.00M1580.75 2058.90H1591.75M1580.75 2066.00H1591.75" fill="none" stroke="#000" stroke-width="2.2"/>
<line x1="1143.2" y1="1812.7" x2="1143.2" y2="2067.2" stroke="#000" stroke-width="2.3"/>
<line x1="1135.8" y1="2066.2" x2="1615.3" y2="2066.2" stroke="#000" stroke-width="2.3"/>
<text x="1133.8" y="2073.2" font-size="20" class="l" font-weight="bold" text-anchor="end">0.0</text>
<line x1="1135.8" y1="2015.7" x2="1143.2" y2="2015.7" stroke="#000" stroke-width="2.3"/>
<text x="1133.8" y="2022.7" font-size="20" class="l" font-weight="bold" text-anchor="end">0.5</text>
<line x1="1135.8" y1="1965.2" x2="1143.2" y2="1965.2" stroke="#000" stroke-width="2.3"/>
<text x="1133.8" y="1972.2" font-size="20" class="l" font-weight="bold" text-anchor="end">1.0</text>
<line x1="1135.8" y1="1914.7" x2="1143.2" y2="1914.7" stroke="#000" stroke-width="2.3"/>
<text x="1133.8" y="1921.7" font-size="20" class="l" font-weight="bold" text-anchor="end">1.5</text>
<line x1="1135.8" y1="1864.2" x2="1143.2" y2="1864.2" stroke="#000" stroke-width="2.3"/>
<text x="1133.8" y="1871.2" font-size="20" class="l" font-weight="bold" text-anchor="end">2.0</text>
<line x1="1135.8" y1="1813.7" x2="1143.2" y2="1813.7" stroke="#000" stroke-width="2.3"/>
<text x="1133.8" y="1820.7" font-size="20" class="l" font-weight="bold" text-anchor="end">2.5</text>
<line x1="1220.8" y1="2066.2" x2="1220.8" y2="2073.7" stroke="#000" stroke-width="2.3"/>
<text x="1222.0" y="2094.0" font-size="19.2" class="l" font-weight="bold" text-anchor="middle">Full</text>
<text x="1222.0" y="2114.8" font-size="19.2" class="l" font-weight="bold" text-anchor="middle">caspase 8/p57</text>
<line x1="1378.0" y1="2066.2" x2="1378.0" y2="2073.7" stroke="#000" stroke-width="2.3"/>
<text x="1379.0" y="2094.0" font-size="19.2" class="l" font-weight="bold" text-anchor="middle">Cleaved</text>
<text x="1379.0" y="2114.8" font-size="19.2" class="l" font-weight="bold" text-anchor="middle">caspase 8/p41/43</text>
<line x1="1535.4" y1="2066.2" x2="1535.4" y2="2073.7" stroke="#000" stroke-width="2.3"/>
<text x="1537.0" y="2094.0" font-size="19.2" class="l" font-weight="bold" text-anchor="middle">Cleaved</text>
<text x="1537.0" y="2114.8" font-size="19.2" class="l" font-weight="bold" text-anchor="middle">caspase 8/p18</text>
<text x="1363.2" y="1792.5" font-size="24" class="l" font-weight="bold" text-anchor="middle">Caspase 8</text>
<text transform="translate(1093.9 1936.9) rotate(-90)" font-size="20.6" class="l" font-weight="bold" text-anchor="middle">Relative protein expression</text>
<path d="M1170.50 1841.25V1826.75H1238.00V1853.00" fill="none" stroke="#000" stroke-width="2.2" stroke-linejoin="miter"/>
<text x="1205.0" y="1821.8" font-size="22" class="d" font-weight="bold" text-anchor="middle" letter-spacing="1.6" stroke="#000" stroke-width="0.35">*</text>
<path d="M1327.50 1973.75V1826.75H1429.25V2021.25" fill="none" stroke="#000" stroke-width="2.2" stroke-linejoin="miter"/>
<text x="1378.3" y="1821.8" font-size="22" class="d" font-weight="bold" text-anchor="middle" letter-spacing="1.6" stroke="#000" stroke-width="0.35">**</text>
<path d="M1327.50 2050.75V1988.25H1395.00V2033.00" fill="none" stroke="#000" stroke-width="2.2" stroke-linejoin="miter"/>
<text x="1361.5" y="1983.8" font-size="22" class="d" font-weight="bold" text-anchor="middle" letter-spacing="1.6" stroke="#000" stroke-width="0.35">*</text>
<rect x="1637.40" y="1812.00" width="23.60" height="10.60" fill="#333333" stroke="#000" stroke-width="2"/>
<text x="1677.9" y="1824.2" font-size="20.2" class="l">DMSO</text>
<rect x="1637.40" y="1845.30" width="23.60" height="10.60" fill="#FF9E9E" stroke="#000" stroke-width="2"/>
<text x="1677.9" y="1857.5" font-size="20.2" class="l">PCH-1 6h</text>
<rect x="1637.40" y="1878.60" width="23.60" height="10.60" fill="#F84444" stroke="#000" stroke-width="2"/>
<text x="1677.9" y="1890.8" font-size="20.2" class="l">PCH-1 24h</text>
<rect x="1637.40" y="1911.90" width="23.60" height="10.60" fill="#A00000" stroke="#000" stroke-width="2"/>
<text x="1677.9" y="1924.1" font-size="20.2" class="l">PCH-1 48h</text>
<line x1="1211.0" y1="2395.00" x2="1713.0" y2="2395.00" stroke="#000" stroke-width="2.5" stroke-dasharray="2.5 6.6"/>
<rect x="1233.65" y="2338.65" width="33.45" height="154.90" fill="#333333" stroke="#000" stroke-width="2.3"/>
<path d="M1250.38 2324.25V2349.50M1241.62 2324.25H1259.12M1241.62 2349.50H1259.12" fill="none" stroke="#000" stroke-width="2.2"/>
<rect x="1288.65" y="2399.90" width="33.20" height="93.65" fill="#FF9E9E" stroke="#000" stroke-width="2.3"/>
<path d="M1305.25 2395.00V2400.75M1296.50 2395.00H1314.00M1296.50 2400.75H1314.00" fill="none" stroke="#000" stroke-width="2.2"/>
<rect x="1343.15" y="2428.65" width="33.20" height="64.90" fill="#F84444" stroke="#000" stroke-width="2.3"/>
<path d="M1359.75 2418.00V2435.50M1351.00 2418.00H1368.50M1351.00 2435.50H1368.50" fill="none" stroke="#000" stroke-width="2.2"/>
<rect x="1397.90" y="2432.40" width="32.70" height="61.15" fill="#A00000" stroke="#000" stroke-width="2.3"/>
<path d="M1414.25 2428.00V2433.75M1405.50 2428.00H1423.00M1405.50 2433.75H1423.00" fill="none" stroke="#000" stroke-width="2.2"/>
<rect x="1488.15" y="2493.15" width="34.10" height="0.40" fill="#333333" stroke="#000" stroke-width="2.3"/>
<path d="M1505.20 2487.40V2494.00M1496.35 2487.40H1514.05M1496.35 2494.00H1514.05" fill="none" stroke="#000" stroke-width="2.2"/>
<rect x="1542.75" y="2493.15" width="34.00" height="0.40" fill="#FF9E9E" stroke="#000" stroke-width="2.3"/>
<path d="M1559.75 2489.00V2494.00M1550.90 2489.00H1568.60M1550.90 2494.00H1568.60" fill="none" stroke="#000" stroke-width="2.2"/>
<rect x="1597.35" y="2489.75" width="33.80" height="3.80" fill="#F84444" stroke="#000" stroke-width="2.3"/>
<path d="M1614.25 2483.80V2491.40M1605.40 2483.80H1623.10M1605.40 2491.40H1623.10" fill="none" stroke="#000" stroke-width="2.2"/>
<rect x="1651.85" y="2485.65" width="34.00" height="7.90" fill="#A00000" stroke="#000" stroke-width="2.3"/>
<path d="M1668.85 2475.00V2492.00M1660.00 2475.00H1677.70M1660.00 2492.00H1677.70" fill="none" stroke="#000" stroke-width="2.2"/>
<line x1="1205.0" y1="2245.2" x2="1205.0" y2="2495.2" stroke="#000" stroke-width="2.3"/>
<line x1="1197.5" y1="2494.2" x2="1715.6" y2="2494.2" stroke="#000" stroke-width="2.3"/>
<text x="1195.0" y="2501.7" font-size="21.5" class="l" font-weight="bold" text-anchor="end">0.0</text>
<line x1="1197.5" y1="2444.6" x2="1205.0" y2="2444.6" stroke="#000" stroke-width="2.3"/>
<text x="1195.0" y="2452.1" font-size="21.5" class="l" font-weight="bold" text-anchor="end">0.5</text>
<line x1="1197.5" y1="2395.0" x2="1205.0" y2="2395.0" stroke="#000" stroke-width="2.3"/>
<text x="1195.0" y="2402.5" font-size="21.5" class="l" font-weight="bold" text-anchor="end">1.0</text>
<line x1="1197.5" y1="2345.4" x2="1205.0" y2="2345.4" stroke="#000" stroke-width="2.3"/>
<text x="1195.0" y="2352.9" font-size="21.5" class="l" font-weight="bold" text-anchor="end">1.5</text>
<line x1="1197.5" y1="2295.8" x2="1205.0" y2="2295.8" stroke="#000" stroke-width="2.3"/>
<text x="1195.0" y="2303.3" font-size="21.5" class="l" font-weight="bold" text-anchor="end">2.0</text>
<line x1="1197.5" y1="2246.2" x2="1205.0" y2="2246.2" stroke="#000" stroke-width="2.3"/>
<text x="1195.0" y="2253.7" font-size="21.5" class="l" font-weight="bold" text-anchor="end">2.5</text>
<line x1="1332.0" y1="2494.2" x2="1332.0" y2="2501.7" stroke="#000" stroke-width="2.3"/>
<text x="1332.7" y="2522.0" font-size="20.5" class="l" font-weight="bold" text-anchor="middle">Full</text>
<text x="1332.7" y="2542.8" font-size="20.5" class="l" font-weight="bold" text-anchor="middle">caspase 9/p47</text>
<line x1="1586.2" y1="2494.2" x2="1586.2" y2="2501.7" stroke="#000" stroke-width="2.3"/>
<text x="1589.0" y="2522.0" font-size="20.7" class="l" font-weight="bold" text-anchor="middle">Cleaved</text>
<text x="1589.0" y="2542.8" font-size="20.7" class="l" font-weight="bold" text-anchor="middle">caspase 9/p35/37</text>
<text x="1443.8" y="2169.8" font-size="26" class="l" font-weight="bold" text-anchor="middle">Caspase 9</text>
<text transform="translate(1151.4 2367.2) rotate(-90)" font-size="20.6" class="l" font-weight="bold" text-anchor="middle">Relative protein expression</text>
<path d="M1249.50 2232.00V2199.25H1414.25V2413.00" fill="none" stroke="#000" stroke-width="2.2" stroke-linejoin="miter"/>
<text x="1332.0" y="2195.8" font-size="23.5" class="d" font-weight="bold" text-anchor="middle" letter-spacing="1.6" stroke="#000" stroke-width="0.35">****</text>
<path d="M1249.50 2261.25V2247.00H1359.50V2403.00" fill="none" stroke="#000" stroke-width="2.2" stroke-linejoin="miter"/>
<text x="1304.5" y="2243.0" font-size="23.5" class="d" font-weight="bold" text-anchor="middle" letter-spacing="1.6" stroke="#000" stroke-width="0.35">****</text>
<path d="M1249.50 2308.75V2295.00H1305.00V2380.50" fill="none" stroke="#000" stroke-width="2.2" stroke-linejoin="miter"/>
<text x="1277.0" y="2290.8" font-size="23.5" class="d" font-weight="bold" text-anchor="middle" letter-spacing="1.6" stroke="#000" stroke-width="0.35">****</text>
<rect x="1637.40" y="2219.90" width="23.60" height="10.60" fill="#333333" stroke="#000" stroke-width="2"/>
<text x="1677.9" y="2232.1" font-size="20.2" class="l">DMSO</text>
<rect x="1637.40" y="2253.20" width="23.60" height="10.60" fill="#FF9E9E" stroke="#000" stroke-width="2"/>
<text x="1677.9" y="2265.4" font-size="20.2" class="l">PCH-1 6h</text>
<rect x="1637.40" y="2286.50" width="23.60" height="10.60" fill="#F84444" stroke="#000" stroke-width="2"/>
<text x="1677.9" y="2298.7" font-size="20.2" class="l">PCH-1 24h</text>
<rect x="1637.40" y="2319.80" width="23.60" height="10.60" fill="#A00000" stroke="#000" stroke-width="2"/>
<text x="1677.9" y="2332.0" font-size="20.2" class="l">PCH-1 48h</text>
</svg></body></html>
